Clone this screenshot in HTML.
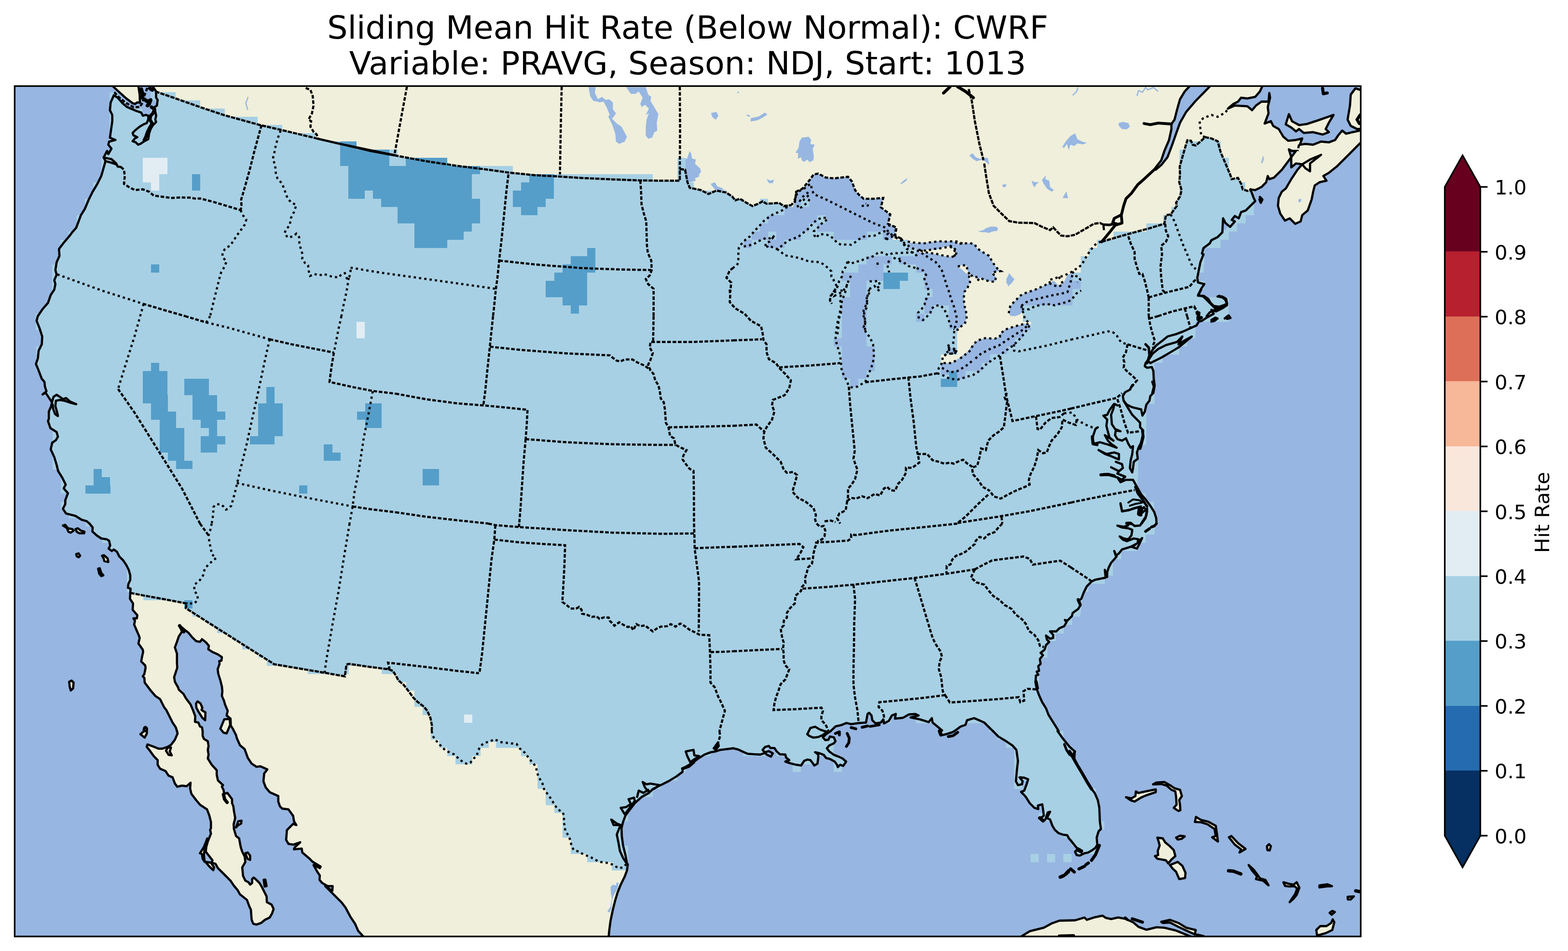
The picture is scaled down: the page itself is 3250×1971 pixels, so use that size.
<!DOCTYPE html>
<html><head><meta charset="utf-8"><title>Sliding Mean Hit Rate (Below Normal): CWRF</title>
<style>html,body{margin:0;padding:0;background:#fff}svg{display:block}</style></head>
<body>
<svg xmlns="http://www.w3.org/2000/svg" width="3250" height="1971" viewBox="0 0 3250 1971">
<rect width="3250" height="1971" fill="#fff"/>
<defs><clipPath id="ax"><rect x="30.4" y="178.4" width="2790.0" height="1762.5"/></clipPath></defs>
<g clip-path="url(#ax)">
<rect x="30.4" y="178.4" width="2790.0" height="1762.5" fill="#97b6e1"/>
<g fill="#efefdb">
<path d="M317.1,176.4 L2616.3,176.4 L2616.3,179.1 L2611.4,189.5 L2601.7,200.8 L2585.5,204.1 L2572.5,202.5 L2566.0,210.6 L2556.2,215.5 L2544.9,225.2 L2559.5,218.7 L2585.5,220.3 L2595.2,228.4 L2603.3,218.7 L2614.7,210.6 L2629.3,210.6 L2630.9,192.7 L2632.5,202.5 L2627.7,221.9 L2629.3,234.9 L2624.4,247.9 L2621.2,256.0 L2634.2,251.2 L2639.0,260.9 L2650.4,267.4 L2660.1,283.6 L2669.9,291.8 L2686.1,290.1 L2699.1,286.9 L2694.2,299.9 L2705.6,298.2 L2721.8,299.9 L2738.1,293.4 L2754.3,295.0 L2767.3,290.1 L2773.8,280.4 L2781.9,270.6 L2790.0,277.1 L2803.0,273.9 L2819.2,270.6 L2822.4,270.6 L2822.4,296.6 L2819.2,296.6 L2803.0,312.9 L2786.8,329.1 L2770.5,345.3 L2754.3,358.3 L2742.9,364.8 L2749.4,374.5 L2734.8,377.8 L2725.1,384.3 L2721.8,397.3 L2718.6,413.5 L2710.5,436.2 L2699.1,446.0 L2695.8,459.0 L2684.5,463.8 L2673.1,452.5 L2663.4,457.3 L2653.6,442.7 L2648.8,426.5 L2650.4,410.3 L2656.9,397.3 L2665.0,390.8 L2676.4,371.3 L2689.4,351.8 L2699.1,340.5 L2715.3,330.7 L2738.1,321.0 L2715.3,338.8 L2715.3,355.1 L2705.6,348.6 L2699.1,340.5 L2686.1,338.8 L2676.4,346.9 L2676.4,325.8 L2686.1,312.9 L2678.0,312.9 L2671.5,309.6 L2676.4,325.8 L2666.6,338.8 L2656.9,351.8 L2640.6,368.1 L2630.9,371.3 L2627.7,364.8 L2624.4,377.8 L2614.7,387.5 L2601.7,394.0 L2591.9,392.4 L2400.0,600.0 L1700.0,1000.0 L1150.0,1550.0 L1301.2,1791.2 L1299.5,1804.2 L1294.7,1817.1 L1286.6,1833.4 L1280.1,1849.6 L1275.2,1865.8 L1270.3,1885.3 L1265.5,1908.1 L1262.9,1927.5 L1261.6,1941.2 L1261.6,1942.9 L754.4,1942.9 L754.4,1942.5 L752.1,1939.9 L742.4,1929.2 L735.9,1914.5 L726.2,1899.9 L716.4,1881.4 L708.3,1870.7 L682.3,1844.7 L674.2,1836.6 L688.8,1846.4 L689.5,1836.6 L679.1,1836.6 L667.7,1830.1 L662.2,1823.6 L662.9,1814.5 L658.0,1807.4 L649.9,1792.8 L662.9,1799.3 L664.5,1796.0 L648.2,1786.3 L641.8,1779.8 L626.5,1766.8 L625.5,1758.7 L609.3,1760.3 L610.9,1756.1 L622.3,1745.7 L607.7,1750.6 L597.9,1749.0 L593.1,1740.8 L594.7,1720.4 L607.7,1707.4 L614.2,1710.0 L609.3,1701.9 L607.7,1691.2 L597.9,1677.5 L584.9,1675.9 L580.1,1671.0 L576.8,1661.3 L576.8,1649.9 L559.0,1641.8 L550.8,1632.1 L546.0,1619.1 L547.6,1602.9 L554.1,1594.7 L539.5,1588.2 L531.4,1589.2 L521.6,1582.7 L513.5,1570.4 L507.0,1552.5 L497.3,1544.4 L490.8,1529.8 L489.2,1523.3 L484.9,1515.2 L484.9,1515.1 L482.7,1510.5 L478.4,1504.0 L477.8,1489.4 L469.7,1482.9 L471.9,1473.2 L466.4,1460.2 L464.2,1452.1 L459.9,1442.3 L460.9,1432.6 L459.9,1422.9 L456.7,1409.9 L452.5,1396.9 L451.2,1387.1 L455.1,1375.8 L454.4,1370.3 L459.0,1369.3 L459.9,1361.8 L451.8,1356.3 L440.5,1351.4 L431.7,1345.6 L433.0,1338.4 L427.5,1331.9 L418.7,1324.8 L414.5,1330.3 L406.4,1328.7 L398.2,1320.6 L390.1,1310.8 L383.6,1306.0 L372.3,1296.2 L372.3,1296.2 L377.1,1309.2 L370.6,1319.0 L366.8,1330.3 L362.5,1341.7 L366.8,1354.7 L366.8,1374.2 L367.4,1383.9 L364.2,1393.6 L360.9,1403.4 L362.5,1413.1 L369.0,1424.5 L370.6,1429.4 L380.4,1438.4 L385.3,1447.2 L395.0,1460.2 L399.9,1471.6 L404.7,1484.5 L404.1,1495.9 L411.2,1497.5 L414.5,1505.6 L418.7,1507.3 L420.0,1515.1 L420.0,1515.2 L420.0,1524.9 L422.6,1531.4 L430.7,1536.3 L432.3,1546.0 L430.7,1554.2 L432.3,1563.9 L430.7,1572.0 L438.8,1585.0 L449.2,1596.4 L449.2,1606.1 L451.8,1617.5 L462.2,1627.2 L459.9,1630.5 L463.2,1636.9 L464.8,1645.1 L471.3,1643.4 L481.0,1656.4 L481.0,1664.5 L483.6,1671.0 L484.9,1680.8 L487.5,1695.4 L484.3,1708.4 L484.9,1718.1 L489.2,1732.7 L495.6,1737.6 L498.9,1755.5 L502.1,1765.2 L507.0,1774.9 L508.6,1786.3 L502.1,1797.7 L503.8,1815.5 L508.6,1825.3 L515.1,1828.5 L518.4,1833.4 L522.6,1830.1 L522.6,1822.0 L525.8,1818.8 L529.7,1822.0 L537.9,1830.1 L542.7,1838.2 L547.6,1848.0 L552.5,1857.7 L553.1,1869.7 L562.9,1874.9 L567.1,1883.7 L563.8,1893.4 L559.0,1901.6 L549.2,1906.4 L541.1,1912.9 L531.4,1916.2 L524.9,1914.5 L521.6,1906.4 L520.0,1885.3 L516.8,1878.8 L511.9,1865.2 L497.3,1853.5 L492.4,1844.7 L484.3,1835.0 L477.8,1825.3 L461.6,1809.0 L451.8,1799.3 L446.9,1790.5 L438.8,1787.9 L440.5,1783.1 L426.5,1765.2 L427.5,1755.5 L430.7,1744.1 L437.2,1727.9 L435.6,1719.7 L437.2,1716.5 L437.2,1703.5 L434.0,1690.5 L429.1,1677.5 L414.5,1667.8 L406.4,1658.1 L396.6,1645.1 L394.0,1633.7 L395.0,1622.3 L386.9,1629.5 L377.1,1628.2 L367.4,1630.5 L362.5,1624.0 L357.7,1611.0 L349.5,1607.7 L343.1,1598.0 L331.7,1593.1 L326.8,1585.0 L326.8,1575.3 L318.7,1567.1 L310.6,1555.8 L304.1,1547.7 L305.7,1542.8 L318.7,1547.7 L328.4,1551.6 L336.6,1551.6 L347.9,1547.7 L354.4,1543.8 L362.5,1533.1 L368.1,1520.1 L366.8,1515.2 L366.8,1515.1 L364.2,1507.3 L357.7,1497.5 L351.2,1484.5 L344.7,1471.6 L339.8,1465.1 L331.7,1448.8 L321.9,1442.3 L312.2,1431.0 L299.9,1414.7 L299.2,1405.0 L296.0,1401.8 L299.2,1396.9 L301.8,1383.9 L300.8,1379.0 L292.7,1370.9 L294.4,1361.2 L296.6,1351.4 L296.0,1346.6 L286.9,1333.6 L289.5,1322.2 L287.9,1317.3 L283.0,1306.0 L278.1,1294.6 L279.7,1286.5 L276.5,1281.6 L283.6,1281.6 L284.6,1275.1 L274.9,1263.8 L275.8,1250.8 L269.4,1241.0 L270.0,1229.7 L300.0,1000.0 L330.0,400.0 L323.6,189.5 L317.1,179.7Z"/>
<path d="M234.3,178.1 L247.3,191.1 L261.9,204.1 L274.9,213.8 L279.7,215.5 L284.6,212.2 L290.1,212.9 L289.5,196.0 L286.2,178.1Z"/>
<path d="M2665.0,257.7 L2671.5,236.6 L2678.0,251.2 L2692.6,259.3 L2708.8,257.0 L2731.6,249.5 L2764.0,238.2 L2754.3,254.4 L2747.8,267.4 L2754.3,273.9 L2741.3,278.8 L2721.8,273.9 L2702.3,275.5 L2692.6,267.4 L2686.1,272.3 L2676.4,264.2Z"/>
<path d="M2819.2,186.2 L2809.5,183.0 L2799.7,196.0 L2798.1,218.7 L2793.2,247.9 L2799.7,260.9 L2812.7,267.4 L2819.2,267.4Z"/>
<path d="M406.4,1457.9 L409.6,1453.7 L415.5,1457.9 L419.4,1466.7 L417.7,1471.6 L425.8,1476.4 L425.2,1492.7 L419.4,1487.8 L411.2,1474.8 L407.0,1466.7Z"/>
<path d="M130.4,1089.1 L135.3,1087.8 L140.8,1094.9 L149.9,1096.6 L152.5,1099.8 L146.6,1104.0 L141.8,1102.1 L138.5,1094.3Z"/>
<path d="M156.4,1096.6 L161.2,1094.9 L167.7,1099.8 L175.2,1102.1 L174.2,1105.3 L164.5,1105.3 L159.0,1102.1Z"/>
<path d="M158.0,1148.5 L162.9,1146.9 L166.1,1151.8 L162.9,1155.0 L159.0,1152.7Z"/>
<path d="M211.6,1151.8 L215.5,1150.8 L222.9,1157.3 L224.5,1164.7 L216.4,1163.1 L214.8,1157.3Z"/>
<path d="M203.4,1178.7 L206.7,1177.7 L209.9,1187.5 L214.2,1192.3 L209.9,1194.0 L205.7,1189.1Z"/>
<path d="M143.4,1413.1 L148.2,1410.5 L152.5,1414.7 L151.5,1426.8 L146.6,1431.0 L144.4,1422.9Z"/>
<path d="M297.6,1515.1 L298.6,1508.9 L301.8,1506.6 L304.4,1509.9 L304.4,1515.1Z"/>
<path d="M291.1,1521.7 L298.6,1515.2 L299.9,1507.1 L304.1,1508.7 L304.4,1520.1 L299.9,1528.8Z"/>
<path d="M344.0,1555.8 L347.9,1549.3 L354.4,1549.3 L351.8,1557.4 L356.0,1565.5 L349.5,1564.5Z"/>
<path d="M456.7,1510.3 L464.8,1490.8 L476.2,1489.9 L477.1,1502.2 L469.7,1520.1 L463.2,1518.4Z"/>
<path d="M489.2,1714.9 L494.0,1701.9 L500.5,1700.9 L499.9,1706.8 L494.0,1710.0Z"/>
<path d="M508.6,1768.4 L513.5,1766.8 L518.4,1773.3 L518.4,1782.1 L512.9,1779.8Z"/>
<path d="M546.6,1823.6 L549.9,1823.0 L552.5,1836.6 L548.6,1837.3Z"/>
<path d="M414.5,1768.4 L422.6,1755.5 L429.7,1737.6 L424.2,1758.7 L422.6,1771.7 L424.2,1786.3 L420.0,1779.8 L418.7,1770.1Z"/>
<path d="M425.8,1786.3 L437.2,1787.9 L443.7,1797.7 L442.1,1803.5 L434.0,1796.0Z"/>
<path d="M2333.8,1652.2 L2345.2,1654.8 L2353.3,1649.9 L2354.3,1640.2 L2359.8,1643.4 L2374.4,1640.2 L2395.5,1636.0 L2395.5,1641.8 L2377.7,1647.7 L2364.7,1653.2 L2351.7,1661.3 L2343.6,1658.7Z"/>
<path d="M2390.0,1625.6 L2397.1,1621.7 L2413.4,1620.7 L2424.7,1627.2 L2434.5,1633.7 L2445.8,1636.9 L2449.7,1649.9 L2444.2,1658.1 L2445.8,1667.8 L2446.5,1679.2 L2442.6,1680.8 L2432.9,1674.3 L2438.7,1667.8 L2437.7,1651.6 L2436.1,1640.2 L2428.0,1636.9 L2418.2,1628.2 L2406.9,1624.9Z"/>
<path d="M2398.8,1736.0 L2410.1,1737.6 L2415.0,1745.7 L2424.7,1753.8 L2432.9,1761.9 L2436.1,1774.3 L2428.0,1781.4 L2421.5,1789.5 L2416.6,1783.1 L2408.5,1781.4 L2398.8,1779.8 L2393.9,1774.3 L2400.4,1772.3 L2399.7,1763.6 L2403.6,1752.2 L2401.0,1742.5Z"/>
<path d="M2424.7,1792.8 L2441.0,1786.3 L2450.7,1794.4 L2457.2,1809.0 L2456.2,1819.7 L2444.2,1822.0 L2437.7,1806.8 L2431.2,1800.9Z"/>
<path d="M2476.7,1703.5 L2479.0,1693.1 L2489.7,1699.6 L2504.3,1702.9 L2519.9,1711.6 L2522.1,1726.2 L2523.8,1739.2 L2524.4,1744.1 L2512.4,1735.3 L2519.9,1732.7 L2517.3,1718.1 L2502.7,1708.4 L2489.7,1704.2Z"/>
<path d="M2437.7,1736.0 L2445.8,1732.1 L2455.6,1733.4 L2449.1,1738.6 L2441.0,1739.9Z"/>
<path d="M2547.1,1735.3 L2552.3,1732.7 L2566.0,1747.3 L2581.6,1759.4 L2569.2,1766.8 L2572.5,1760.3 L2559.5,1750.6Z"/>
<path d="M2626.0,1753.8 L2630.3,1749.6 L2634.2,1753.8 L2631.6,1762.6 L2627.0,1761.9Z"/>
<path d="M2588.1,1792.8 L2598.4,1802.5 L2608.2,1815.5 L2611.4,1820.4 L2622.8,1823.6 L2629.3,1835.0 L2617.9,1825.3 L2603.3,1822.0 L2605.6,1816.5 L2595.2,1804.2Z"/>
<path d="M2660.1,1828.5 L2671.5,1831.8 L2681.2,1833.4 L2687.7,1828.5 L2693.2,1839.9 L2687.7,1854.5 L2681.2,1862.6 L2673.1,1869.7 L2684.5,1852.9 L2688.7,1841.5 L2682.9,1836.6 L2671.5,1837.3 L2663.4,1836.0Z"/>
<path d="M2734.8,1835.0 L2751.0,1832.7 L2760.8,1836.6 L2749.4,1837.3 L2734.8,1839.2Z"/>
<path d="M2728.3,1927.5 L2736.4,1919.4 L2749.4,1919.4 L2759.2,1912.9 L2762.4,1905.5 L2765.6,1911.3 L2761.4,1927.5 L2747.8,1934.0 L2729.9,1938.9Z"/>
<path d="M2755.9,1891.8 L2761.4,1887.9 L2766.6,1890.2 L2760.1,1895.7Z"/>
<path d="M2793.2,1858.7 L2806.2,1857.7 L2799.7,1864.2 L2793.9,1864.2Z"/>
<path d="M2116.3,1941.8 L2134.2,1930.1 L2163.4,1922.7 L2179.6,1913.9 L2195.8,1908.1 L2228.3,1907.4 L2247.8,1901.6 L2252.7,1906.4 L2267.3,1901.6 L2285.1,1897.7 L2291.6,1902.2 L2303.0,1904.8 L2317.6,1901.6 L2332.2,1904.2 L2348.4,1911.3 L2359.8,1921.0 L2376.0,1926.9 L2397.1,1921.7 L2413.4,1922.7 L2436.1,1928.2 L2452.3,1934.7 L2465.3,1939.9 L2471.8,1942.1Z"/>
<path d="M2406.9,1910.6 L2424.7,1906.4 L2442.6,1912.9 L2458.8,1922.7 L2478.3,1927.5 L2476.7,1936.6 L2462.1,1930.1 L2442.6,1921.0 L2424.7,1911.9 L2410.1,1912.9Z"/>
</g>
<g fill="#97b6e1">
<path d="M1220.0,180.4 L1234.6,180.4 L1233.0,192.7 L1239.5,205.7 L1247.6,200.8 L1255.7,207.3 L1262.2,205.7 L1270.3,212.2 L1270.3,226.8 L1276.8,234.9 L1268.7,246.3 L1278.4,256.0 L1288.2,262.5 L1299.5,283.6 L1294.7,293.4 L1283.3,298.2 L1276.8,293.4 L1275.2,277.1 L1268.7,257.7 L1260.6,241.4 L1263.8,238.2 L1257.3,221.9 L1250.8,210.6 L1242.7,212.2 L1237.9,210.6 L1229.7,209.0 L1223.2,199.2Z"/>
<path d="M1297.9,180.4 L1338.5,180.4 L1343.4,196.0 L1349.9,200.8 L1348.2,209.0 L1358.0,225.2 L1364.5,236.6 L1361.2,254.4 L1362.2,270.6 L1356.4,273.9 L1351.5,285.3 L1343.4,287.5 L1338.5,280.4 L1338.5,264.2 L1340.1,247.9 L1345.0,234.9 L1338.5,238.2 L1345.0,225.2 L1336.9,217.1 L1330.4,221.9 L1327.1,215.5 L1332.0,202.5 L1323.9,189.5 L1317.4,194.4 L1307.7,194.4 L1302.8,187.9Z"/>
<path d="M1473.9,234.9 L1484.6,231.7 L1488.8,239.8 L1483.6,247.9 L1478.1,243.1Z"/>
<path d="M1422.9,332.3 L1429.4,312.9 L1432.7,319.4 L1434.3,329.1 L1442.4,330.7 L1439.2,338.8 L1447.3,345.3 L1453.1,355.1 L1447.3,364.8 L1439.2,368.1 L1442.4,374.5 L1431.0,377.8 L1424.5,371.3 L1421.3,358.3 L1427.8,351.8 L1422.9,345.3Z"/>
<path d="M1473.2,381.0 L1481.4,377.8 L1486.2,385.9 L1499.2,390.8 L1492.7,394.0 L1483.0,392.4Z"/>
<path d="M1473.6,234.3 L1484.9,232.3 L1488.8,239.8 L1483.3,247.9 L1476.8,243.1Z"/>
<path d="M1545.0,238.2 L1553.1,238.2 L1554.7,243.1Z"/>
<path d="M1556.4,244.7 L1572.6,241.4 L1585.6,233.3 L1590.5,237.5 L1579.1,244.7 L1569.4,249.5 L1555.7,251.8Z"/>
<path d="M1661.9,285.3 L1676.5,283.6 L1681.4,290.1 L1679.7,298.2 L1688.8,299.9 L1684.6,308.0 L1686.9,325.8 L1685.6,332.3 L1678.1,336.2 L1673.2,330.7 L1666.8,335.6 L1661.9,332.3 L1660.3,325.8 L1653.8,329.1 L1654.4,317.7 L1648.9,316.1 L1655.4,306.4 L1657.0,293.4Z"/>
<path d="M1588.8,370.6 L1596.9,374.5 L1604.4,371.9 L1601.8,379.4 L1593.7,379.4Z"/>
<path d="M1865.5,381.0 L1874.5,372.9 L1881.7,368.7 L1877.8,375.2 L1869.7,381.0Z"/>
<path d="M1420.0,327.5 L1428.1,332.3 L1431.4,314.5 L1434.6,329.1 L1442.1,330.7 L1440.1,342.1 L1450.8,348.6 L1453.1,356.7 L1444.4,361.6 L1450.8,364.8 L1437.9,371.3 L1429.7,377.8 L1420.0,377.8Z"/>
<path d="M1473.6,382.7 L1481.7,377.8 L1486.6,385.9 L1488.2,392.4 L1504.4,392.4 L1494.7,395.6 L1483.3,394.0Z"/>
<path d="M2009.3,321.9 L2015.8,317.7 L2022.3,325.8 L2030.4,329.1 L2046.6,327.5 L2049.9,340.5 L2036.9,330.7 L2023.9,334.0 L2015.8,329.1Z"/>
<path d="M2028.8,480.1 L2041.8,475.2 L2053.1,470.3 L2066.1,470.3 L2068.7,475.2 L2059.6,478.4 L2048.2,482.3 L2038.5,481.0Z"/>
<path d="M2465.3,178.4 L2507.5,178.4 L2494.5,192.7 L2478.3,209.0 L2458.8,231.7 L2445.8,254.4 L2437.7,277.1 L2429.6,299.9 L2419.9,325.8 L2406.9,342.1 L2395.5,351.8 L2395.5,346.9 L2406.9,332.3 L2413.4,312.9 L2423.1,290.1 L2428.0,267.4 L2428.0,257.0 L2434.5,247.9 L2439.4,228.4 L2445.8,205.7 L2455.6,189.5Z"/>
<path d="M2318.6,255.1 L2327.3,252.8 L2338.7,255.1 L2341.9,262.5 L2335.5,268.1 L2325.7,267.4 L2319.2,260.9Z"/>
<path d="M2201.7,304.7 L2208.8,293.4 L2218.6,282.0 L2228.3,276.5 L2233.2,288.5 L2242.9,293.4 L2252.7,296.0 L2244.5,299.2 L2233.2,297.3 L2226.7,302.5 L2218.6,299.9 L2215.3,311.2 L2211.4,298.2 L2205.6,306.4Z"/>
<path d="M2138.1,374.5 L2145.5,377.8 L2153.6,377.1 L2147.1,382.7 L2144.5,388.2 L2141.3,384.3Z"/>
<path d="M2159.5,372.9 L2168.2,363.2 L2166.6,371.3 L2174.7,374.5 L2176.4,387.5 L2184.5,394.0 L2179.6,397.3 L2169.9,390.8 L2163.4,381.0Z"/>
<path d="M2202.3,410.3 L2210.5,396.6 L2213.7,410.9Z"/>
<path d="M2077.3,382.7 L2086.1,381.7 L2084.8,386.9 L2079.0,388.2Z"/>
<path d="M2085.5,579.1 L2091.9,566.8 L2101.7,579.1 L2096.8,587.2 L2090.3,592.1Z"/>
<path d="M2614.0,337.2 L2617.9,322.6 L2619.9,329.1 L2616.3,338.8Z"/>
<path d="M2691.0,413.5 L2697.5,411.9 L2695.8,418.4 L2691.9,419.4Z"/>
<path d="M1265.5,1838.2 L1270.3,1833.4 L1276.8,1835.0 L1278.4,1828.5 L1282.3,1830.1 L1280.1,1841.5 L1271.9,1856.1 L1268.7,1865.8 L1267.1,1882.1 L1263.8,1891.8 L1259.0,1888.6 L1265.5,1878.8 L1268.1,1862.6 L1266.1,1849.6Z"/>
<path d="M2026.8,479.0 L2040.0,477.5 L2042.0,473.5 L2054.2,469.4 L2064.4,470.0 L2068.8,474.5 L2066.4,478.6 L2058.3,479.6 L2048.1,483.0 L2046.1,480.2 L2036.0,481.6Z"/>
<path d="M2085.1,583.7 L2090.7,576.0 L2091.2,565.8 L2097.8,573.9 L2102.9,579.0 L2097.8,585.1 L2092.4,588.1 L2090.7,594.2Z"/>
</g>
<g fill="none" stroke="#97b6e1" stroke-width="2.5">
<path d="M514.2,200.8 L509.6,213.8 L513.5,227.8"/>
<path d="M1528.8,190.1 L1531.0,192.7"/>
<path d="M2356.6,199.2 L2359.8,187.9 L2367.9,191.1 L2374.4,181.4 L2379.3,186.2 L2390.6,181.4 L2400.4,189.5"/>
<path d="M2223.4,197.6 L2231.6,189.5 L2234.2,181.4"/>
<path d="M2040.0,327.5 L2046.5,329.1 L2049.1,340.5"/>
</g>
<g fill="#a7d0e4" shape-rendering="crispEdges">
<path d="M323.6,189.5 L321.9,189.5 L364.2,204.1 L414.5,221.9 L466.4,239.2 L539.5,259.3 L581.7,269.0 L656.4,286.9 L705.1,298.2 L766.8,311.2 L820.0,321.9 L817.4,321.9 L882.3,334.0 L947.3,343.7 L1012.2,351.8 L1054.4,357.7 L1109.6,363.2 L1158.3,365.8 L1207.0,369.0 L1271.9,371.9 L1327.1,373.9 L1369.4,374.5 L1409.0,374.5 L1409.0,350.2 L1409.0,350.2 L1420.0,351.8 L1424.9,377.8 L1429.7,389.2 L1452.5,394.0 L1468.7,402.1 L1484.9,395.0 L1504.4,398.9 L1517.4,407.0 L1523.9,415.1 L1533.6,411.9 L1546.6,420.0 L1559.6,427.1 L1569.4,423.2 L1580.7,417.4 L1588.8,422.3 L1614.8,420.6 L1624.5,427.1 L1640.8,424.9 L1643.3,438.7 L1702.9,471.2 L1804.4,471.2 L1840.9,477.3 L1845.0,491.5 L1849.0,496.9 L1881.5,496.9 L1881.5,507.7 L1905.8,511.8 L1930.4,541.5 L1960.9,602.3 L1981.2,663.2 L1978.1,681.5 L1984.3,683.4 L1984.3,734.7 L1950.2,734.7 L1950.2,755.8 L2004.4,755.8 L2069.4,723.4 L2123.2,677.4 L2137.8,683.5 L2137.8,666.7 L2120.8,666.7 L2120.8,632.8 L2163.8,622.6 L2223.1,582.0 L2223.1,564.8 L2240.1,564.8 L2240.1,564.8 L2240.1,531.3 L2257.1,531.3 L2257.1,514.1 L2274.2,514.1 L2274.2,497.2 L2308.3,497.2 L2308.3,480.2 L2376.5,480.2 L2376.5,463.3 L2400.0,463.3 L2413.4,463.8 L2416.6,446.0 L2426.4,444.4 L2439.4,426.5 L2437.7,420.0 L2445.8,407.0 L2449.1,394.0 L2444.2,377.8 L2445.8,361.6 L2445.2,345.3 L2450.7,325.8 L2457.2,303.1 L2461.1,290.8 L2468.6,291.8 L2471.8,299.9 L2478.3,301.5 L2488.1,293.4 L2497.8,284.3 L2510.8,286.9 L2523.8,292.7 L2530.3,316.1 L2540.0,338.8 L2549.7,361.6 L2553.0,371.3 L2566.0,368.7 L2572.5,381.0 L2575.7,392.4 L2585.5,395.6 L2591.9,394.0 L2591.9,392.4 L2598.4,410.3 L2601.7,416.8 L2591.9,426.5 L2582.2,436.2 L2572.5,439.5 L2567.6,452.5 L2559.5,447.6 L2553.0,455.7 L2559.5,459.0 L2549.7,470.3 L2540.0,462.2 L2535.1,452.5 L2533.5,481.7 L2523.8,491.4 L2510.8,497.9 L2507.5,504.4 L2494.5,514.2 L2491.3,525.5 L2494.5,527.1 L2488.1,543.4 L2484.8,559.6 L2481.6,575.8 L2483.2,585.6 L2496.2,588.8 L2489.7,598.6 L2483.2,611.6 L2494.5,613.0 L2494.5,616.2 L2546.5,616.2 L2546.5,666.6 L2478.3,666.6 L2478.3,700.6 L2461.1,700.6 L2461.1,717.5 L2444.2,717.5 L2444.2,734.7 L2410.1,734.7 L2410.1,751.9 L2392.9,751.9 L2392.9,837.0 L2376.0,837.0 L2376.0,922.1 L2358.2,922.1 L2358.2,1022.1 L2374.4,1022.1 L2374.4,1035.1 L2384.2,1048.1 L2392.3,1061.0 L2396.5,1074.0 L2398.8,1085.1 L2398.8,1085.2 L2393.9,1091.7 L2392.3,1107.9 L2374.4,1107.9 L2374.4,1124.8 L2358.2,1124.8 L2358.2,1142.0 L2324.1,1142.0 L2324.1,1158.9 L2306.9,1158.9 L2306.9,1193.0 L2290.0,1193.0 L2290.0,1210.2 L2255.9,1210.2 L2255.9,1227.1 L2244.5,1227.1 L2242.9,1244.3 L2238.7,1278.4 L2221.8,1278.4 L2221.8,1295.3 L2204.9,1295.3 L2204.9,1312.5 L2187.7,1312.5 L2187.7,1329.4 L2170.8,1329.4 L2170.8,1363.4 L2160.1,1363.4 L2156.9,1375.8 L2153.6,1390.4 L2148.8,1392.0 L2152.0,1398.5 L2147.1,1400.1 L2146.5,1413.1 L2148.8,1427.7 L2153.6,1440.7 L2160.1,1455.3 L2168.2,1468.3 L2173.1,1481.3 L2181.2,1494.3 L2189.4,1507.3 L2194.2,1515.1 L2191.9,1515.2 L2202.3,1529.8 L2216.9,1547.7 L2227.7,1557.4 L2226.7,1572.0 L2234.8,1589.9 L2244.5,1606.1 L2254.3,1622.3 L2262.4,1635.3 L2268.9,1643.4 L2275.4,1658.1 L2278.6,1674.3 L2279.6,1701.9 L2281.9,1718.1 L2277.0,1723.0 L2273.1,1736.0 L2274.4,1750.6 L2270.5,1757.1 L2264.0,1761.9 L2255.9,1766.8 L2247.8,1768.4 L2238.1,1773.3 L2231.6,1772.3 L2228.3,1765.2 L2231.6,1761.9 L2241.3,1766.8 L2242.9,1763.6 L2238.1,1760.3 L2231.6,1757.1 L2225.1,1749.0 L2219.9,1742.5 L2220.0,1742.5 L2215.5,1737.6 L2212.2,1731.1 L2204.1,1730.1 L2194.4,1726.9 L2186.2,1719.7 L2181.4,1711.6 L2176.5,1698.6 L2170.0,1695.4 L2176.5,1682.4 L2171.6,1684.0 L2166.8,1698.6 L2161.9,1701.9 L2157.0,1695.4 L2163.5,1690.5 L2161.9,1677.5 L2160.3,1667.1 L2151.2,1669.4 L2152.1,1676.9 L2144.0,1674.3 L2134.3,1664.5 L2126.2,1651.6 L2116.4,1641.2 L2122.9,1638.6 L2127.8,1625.6 L2131.0,1615.2 L2122.9,1611.9 L2113.2,1611.0 L2119.7,1619.1 L2118.1,1625.6 L2109.9,1627.2 L2105.7,1619.1 L2107.7,1596.4 L2109.9,1576.9 L2106.7,1554.2 L2098.6,1545.1 L2085.6,1536.3 L2069.4,1526.6 L2058.0,1515.2 L2058.0,1515.1 L2053.1,1510.5 L2040.1,1497.5 L2019.0,1488.4 L2004.4,1492.7 L2001.2,1502.4 L1991.4,1505.6 L1978.4,1515.1 L1978.4,1515.2 L1973.6,1517.8 L1960.6,1521.7 L1949.9,1524.3 L1947.6,1518.4 L1952.5,1513.9 L1952.5,1513.8 L1942.7,1505.6 L1933.0,1497.5 L1931.4,1488.4 L1924.9,1496.6 L1907.0,1491.0 L1887.5,1487.1 L1903.8,1482.9 L1897.3,1479.7 L1884.3,1480.6 L1871.3,1487.8 L1855.1,1489.4 L1856.7,1479.7 L1848.6,1482.9 L1842.1,1494.3 L1832.3,1499.2 L1830.7,1491.0 L1825.8,1497.5 L1814.5,1499.2 L1808.0,1492.7 L1806.4,1482.9 L1801.5,1477.4 L1798.2,1479.7 L1795.0,1497.5 L1780.4,1498.5 L1764.2,1500.8 L1754.4,1498.5 L1744.7,1502.4 L1731.7,1505.6 L1721.9,1515.1 L1721.9,1515.2 L1712.2,1521.7 L1705.7,1528.2 L1710.6,1534.0 L1717.1,1533.1 L1720.3,1526.6 L1728.4,1528.2 L1731.7,1536.3 L1728.4,1540.5 L1718.7,1545.1 L1713.8,1550.9 L1718.7,1557.4 L1728.4,1564.5 L1739.8,1568.8 L1746.3,1572.0 L1753.8,1578.5 L1747.9,1587.3 L1741.4,1585.0 L1736.6,1589.9 L1734.9,1585.0 L1730.1,1578.5 L1720.3,1573.0 L1712.2,1571.0 L1707.3,1564.5 L1699.2,1561.3 L1689.5,1559.0 L1696.0,1563.9 L1696.0,1570.4 L1694.4,1582.7 L1687.9,1586.6 L1684.6,1581.8 L1679.7,1575.3 L1673.2,1574.3 L1666.8,1576.9 L1660.3,1586.6 L1647.3,1584.4 L1637.5,1581.8 L1627.8,1578.5 L1635.9,1575.3 L1629.4,1570.4 L1627.8,1563.9 L1616.4,1563.2 L1609.9,1557.4 L1605.1,1550.3 L1596.9,1550.3 L1593.7,1546.0 L1585.6,1548.3 L1580.7,1554.2 L1585.6,1560.6 L1575.8,1563.9 L1562.9,1563.2 L1549.9,1562.3 L1540.1,1558.1 L1530.4,1553.5 L1520.0,1550.9 L1520.0,1550.9 L1492.7,1554.2 L1483.0,1557.4 L1473.2,1559.0 L1460.3,1563.9 L1447.3,1572.0 L1434.3,1581.8 L1414.8,1593.1 L1414.8,1599.6 L1401.8,1609.4 L1385.6,1619.1 L1369.4,1627.2 L1353.1,1635.3 L1345.0,1643.4 L1330.4,1651.6 L1317.4,1662.9 L1304.4,1679.2 L1296.3,1690.5 L1291.4,1703.5 L1288.2,1716.5 L1288.8,1732.7 L1291.4,1752.2 L1296.3,1771.7 L1299.5,1789.5 L1297.9,1804.2 L1268.1,1804.2 L1268.1,1786.9 L1216.8,1786.9 L1216.8,1770.1 L1183.6,1770.1 L1183.6,1736.0 L1166.4,1736.0 L1166.4,1684.7 L1148.6,1684.7 L1148.6,1667.8 L1130.7,1667.8 L1130.7,1633.7 L1113.8,1633.7 L1113.8,1584.0 L1096.6,1584.0 L1096.6,1567.1 L1079.7,1567.1 L1079.7,1550.3 L1028.4,1550.3 L1028.4,1537.9 L1012.2,1537.9 L1012.2,1550.3 L995.0,1550.3 L995.0,1567.1 L978.1,1567.1 L978.1,1584.0 L944.0,1584.0 L944.0,1567.1 L926.8,1567.1 L926.8,1550.3 L909.9,1550.3 L909.9,1533.1 L893.1,1533.1 L893.1,1482.1 L875.8,1482.1 L875.8,1464.9 L859.0,1464.9 L859.0,1460.0 L859.0,1465.1 L859.0,1431.0 L841.8,1431.0 L841.8,1414.1 L823.9,1414.1 L823.9,1396.9 L790.8,1396.9 L790.8,1388.8 L805.7,1387.1 L766.8,1382.3 L722.9,1375.8 L718.1,1377.4 L714.8,1401.8 L672.6,1394.3 L620.6,1385.5 L568.7,1376.8 L523.2,1348.2 L474.5,1317.3 L425.8,1286.5 L385.3,1260.5 L386.9,1250.8 L344.7,1242.7 L296.0,1233.9 L270.0,1228.7 L270.0,1229.7 L270.6,1219.9 L265.1,1218.3 L266.1,1210.2 L270.0,1202.1 L270.0,1192.3 L266.8,1181.0 L261.9,1171.2 L255.4,1161.5 L247.3,1153.4 L242.4,1143.6 L235.9,1138.8 L231.7,1142.0 L225.2,1137.1 L228.4,1130.6 L226.2,1120.9 L221.3,1117.7 L209.9,1116.0 L200.2,1109.5 L191.4,1101.4 L192.1,1093.3 L185.6,1085.2 L185.6,1085.1 L179.1,1079.9 L169.4,1077.3 L156.4,1069.2 L136.9,1064.3 L130.4,1054.5 L135.3,1044.8 L135.3,1036.7 L140.8,1022.1 L132.0,1012.3 L136.2,1004.2 L128.8,989.6 L120.6,976.6 L117.4,963.6 L112.5,947.4 L105.1,931.2 L108.3,917.5 L115.8,912.3 L120.0,905.2 L117.4,895.5 L104.4,887.3 L99.5,872.7 L101.2,867.9 L101.2,853.2 L106.0,841.9 L107.7,833.8 L101.2,824.0 L94.7,814.3 L88.2,817.5 L96.3,811.0 L93.1,801.3 L92.1,791.6 L86.6,785.1 L81.7,772.1 L74.5,754.2 L78.4,742.9 L80.1,726.6 L86.6,713.6 L87.5,697.4 L81.7,679.5 L75.8,664.9 L78.4,655.2 L78.4,655.1 L88.2,640.8 L99.5,627.8 L105.1,611.6 L112.5,600.2 L114.8,588.8 L112.5,580.7 L117.4,569.4 L114.8,559.6 L117.4,543.4 L123.2,530.4 L122.3,515.8 L133.6,501.2 L143.4,489.8 L148.2,483.3 L158.0,471.9 L167.7,446.0 L175.8,433.0 L184.0,413.5 L192.1,397.3 L201.8,381.0 L209.9,364.8 L218.7,334.0 L214.8,326.5 L214.8,326.5 L221.9,312.9 L224.5,319.4 L231.0,308.0 L224.5,299.9 L226.2,293.4 L239.2,290.1 L227.8,285.3 L230.4,267.4 L232.7,251.2 L232.7,238.2 L227.8,228.4 L229.4,212.2 L235.9,197.6 L244.0,202.5 L253.8,213.8 L263.5,221.9 L283.0,230.1 L292.7,233.3 L296.0,239.8 L321.9,231.7 L325.2,218.7 L326.8,207.3 L323.6,202.5Z"/>
<rect x="312.3" y="191.3" width="51.2" height="17.0"/>
<rect x="363.5" y="208.3" width="51.2" height="16.9"/>
<rect x="414.7" y="225.2" width="51.2" height="17.0"/>
<rect x="465.9" y="242.2" width="68.3" height="17.0"/>
<rect x="534.2" y="259.2" width="51.2" height="17.0"/>
<rect x="585.4" y="276.2" width="68.2" height="17.0"/>
<rect x="807.2" y="310.1" width="17.1" height="17.0"/>
<rect x="994.9" y="344.1" width="68.2" height="17.0"/>
<rect x="1063.1" y="361.1" width="290.0" height="16.9"/>
<rect x="1404.2" y="327.1" width="17.1" height="50.9"/>
<rect x="1353.1" y="378.0" width="85.3" height="17.0"/>
<rect x="2136.0" y="1770.0" width="17.0" height="17.0"/>
<rect x="2170.0" y="1770.0" width="17.0" height="17.0"/>
<rect x="2204.0" y="1770.0" width="17.1" height="17.0"/>
<rect x="1642.5" y="1583.2" width="17.0" height="17.0"/>
<rect x="1727.6" y="1583.2" width="17.0" height="17.0"/>
<rect x="2136.0" y="1770.0" width="17.0" height="17.0"/>
<rect x="2170.0" y="1770.0" width="17.0" height="17.0"/>
<rect x="2204.0" y="1770.0" width="17.1" height="17.0"/>
<rect x="227.0" y="191.3" width="17.1" height="17.3"/>
<rect x="329.4" y="191.3" width="17.1" height="17.3"/>
<rect x="227.0" y="208.3" width="34.1" height="17.3"/>
<rect x="329.4" y="208.3" width="68.2" height="17.3"/>
<rect x="227.1" y="225.2" width="68.2" height="17.3"/>
<rect x="312.4" y="225.2" width="136.5" height="17.3"/>
<rect x="227.1" y="242.2" width="273.0" height="17.3"/>
<rect x="227.1" y="259.2" width="341.2" height="17.3"/>
<rect x="227.2" y="276.2" width="426.5" height="17.3"/>
<rect x="227.2" y="293.2" width="494.7" height="17.3"/>
<rect x="2461.9" y="293.2" width="68.2" height="17.3"/>
<rect x="227.2" y="310.1" width="580.0" height="17.3"/>
<rect x="2444.8" y="310.1" width="85.3" height="17.3"/>
<rect x="210.2" y="327.1" width="682.3" height="17.3"/>
<rect x="2444.8" y="327.1" width="102.3" height="17.3"/>
<rect x="210.2" y="344.1" width="801.7" height="17.3"/>
<rect x="1404.2" y="344.1" width="17.1" height="17.3"/>
<rect x="2444.7" y="344.1" width="102.3" height="17.3"/>
<rect x="210.3" y="361.1" width="1006.4" height="17.3"/>
<rect x="1404.2" y="361.1" width="17.1" height="17.3"/>
<rect x="2444.7" y="361.1" width="102.3" height="17.3"/>
<rect x="193.2" y="378.0" width="1228.1" height="17.3"/>
<rect x="2444.7" y="378.0" width="136.5" height="17.3"/>
<rect x="193.3" y="395.0" width="1313.3" height="17.3"/>
<rect x="2444.7" y="395.0" width="153.5" height="17.3"/>
<rect x="176.2" y="412.0" width="1364.4" height="17.3"/>
<rect x="1574.8" y="412.0" width="17.1" height="17.3"/>
<rect x="2444.6" y="412.0" width="153.5" height="17.3"/>
<rect x="176.3" y="429.0" width="1466.7" height="17.3"/>
<rect x="2427.5" y="429.0" width="153.5" height="17.3"/>
<rect x="159.2" y="445.9" width="1517.9" height="17.3"/>
<rect x="2410.5" y="445.9" width="136.4" height="17.3"/>
<rect x="159.3" y="462.9" width="1654.3" height="17.3"/>
<rect x="2376.3" y="462.9" width="153.5" height="17.3"/>
<rect x="142.3" y="479.9" width="1705.4" height="17.3"/>
<rect x="2308.1" y="479.9" width="221.7" height="17.3"/>
<rect x="125.2" y="496.9" width="1756.5" height="17.3"/>
<rect x="2273.9" y="496.9" width="238.7" height="17.3"/>
<rect x="125.3" y="513.8" width="1790.5" height="17.3"/>
<rect x="2256.9" y="513.8" width="238.7" height="17.3"/>
<rect x="125.3" y="530.8" width="1807.5" height="17.3"/>
<rect x="2239.8" y="530.8" width="255.8" height="17.3"/>
<rect x="108.3" y="547.8" width="1824.5" height="17.3"/>
<rect x="2239.8" y="547.8" width="238.7" height="17.3"/>
<rect x="108.3" y="564.8" width="1841.6" height="17.3"/>
<rect x="2222.7" y="564.8" width="255.8" height="17.3"/>
<rect x="108.4" y="581.7" width="1841.5" height="17.3"/>
<rect x="2205.6" y="581.7" width="289.9" height="17.3"/>
<rect x="108.4" y="598.7" width="1858.5" height="17.3"/>
<rect x="2188.5" y="598.7" width="289.9" height="17.3"/>
<rect x="108.4" y="615.7" width="1858.5" height="17.3"/>
<rect x="2154.4" y="615.7" width="392.2" height="17.3"/>
<rect x="91.4" y="632.7" width="1875.5" height="17.3"/>
<rect x="2120.3" y="632.7" width="426.2" height="17.3"/>
<rect x="74.4" y="649.6" width="1909.5" height="17.3"/>
<rect x="2120.3" y="649.6" width="426.2" height="17.3"/>
<rect x="74.4" y="666.6" width="1909.4" height="17.3"/>
<rect x="2137.3" y="666.6" width="341.0" height="17.3"/>
<rect x="91.5" y="683.6" width="1892.3" height="17.3"/>
<rect x="2103.2" y="683.6" width="375.1" height="17.3"/>
<rect x="91.5" y="700.6" width="1892.3" height="17.3"/>
<rect x="2086.1" y="700.6" width="375.1" height="17.3"/>
<rect x="74.5" y="717.5" width="1909.3" height="17.3"/>
<rect x="2069.1" y="717.5" width="375.0" height="17.3"/>
<rect x="74.6" y="734.5" width="1875.2" height="17.3"/>
<rect x="2034.9" y="734.5" width="375.0" height="17.3"/>
<rect x="74.6" y="751.5" width="2318.3" height="17.3"/>
<rect x="91.7" y="768.5" width="2301.2" height="17.3"/>
<rect x="91.7" y="785.4" width="2301.1" height="17.3"/>
<rect x="91.7" y="802.4" width="2301.1" height="17.3"/>
<rect x="108.8" y="819.4" width="2284.0" height="17.3"/>
<rect x="108.9" y="836.4" width="2266.9" height="17.3"/>
<rect x="108.9" y="853.3" width="2266.8" height="17.3"/>
<rect x="108.9" y="870.3" width="2266.7" height="17.3"/>
<rect x="109.0" y="887.3" width="2266.7" height="17.3"/>
<rect x="109.0" y="904.3" width="2266.6" height="17.3"/>
<rect x="109.0" y="921.2" width="2249.5" height="17.3"/>
<rect x="109.1" y="938.2" width="2249.5" height="17.3"/>
<rect x="109.1" y="955.2" width="2249.4" height="17.3"/>
<rect x="126.2" y="972.2" width="2232.3" height="17.3"/>
<rect x="126.2" y="989.1" width="2232.2" height="17.3"/>
<rect x="126.2" y="1006.1" width="2232.2" height="17.3"/>
<rect x="143.3" y="1023.1" width="2232.1" height="17.3"/>
<rect x="126.3" y="1040.1" width="2266.1" height="17.3"/>
<rect x="143.4" y="1057.0" width="2249.0" height="17.3"/>
<rect x="177.5" y="1074.0" width="2214.9" height="17.3"/>
<rect x="194.6" y="1091.0" width="2197.8" height="17.3"/>
<rect x="211.6" y="1108.0" width="2163.7" height="17.3"/>
<rect x="228.7" y="1124.9" width="2129.5" height="17.3"/>
<rect x="245.8" y="1141.9" width="2078.4" height="17.3"/>
<rect x="262.8" y="1158.9" width="2044.3" height="17.3"/>
<rect x="262.8" y="1175.9" width="2044.2" height="17.3"/>
<rect x="262.9" y="1192.8" width="2027.1" height="17.3"/>
<rect x="262.9" y="1209.8" width="1993.0" height="17.3"/>
<rect x="297.0" y="1226.8" width="1941.8" height="17.3"/>
<rect x="382.2" y="1243.8" width="1856.6" height="17.3"/>
<rect x="399.3" y="1260.7" width="1839.5" height="17.3"/>
<rect x="433.3" y="1277.7" width="1788.4" height="17.3"/>
<rect x="450.4" y="1294.7" width="1754.3" height="17.3"/>
<rect x="484.5" y="1311.7" width="1703.1" height="17.3"/>
<rect x="501.5" y="1328.6" width="1669.0" height="17.3"/>
<rect x="535.6" y="1345.6" width="1634.9" height="17.3"/>
<rect x="552.7" y="1362.6" width="1600.8" height="17.3"/>
<rect x="637.9" y="1379.6" width="85.1" height="17.3"/>
<rect x="791.1" y="1379.6" width="1362.4" height="17.3"/>
<rect x="825.2" y="1396.5" width="1328.3" height="17.3"/>
<rect x="842.2" y="1413.5" width="1311.2" height="17.3"/>
<rect x="859.3" y="1430.5" width="1294.1" height="17.3"/>
<rect x="859.3" y="1447.5" width="1294.1" height="17.3"/>
<rect x="876.3" y="1464.4" width="1294.1" height="17.3"/>
<rect x="893.4" y="1481.4" width="902.4" height="17.3"/>
<rect x="1812.8" y="1481.4" width="34.1" height="17.3"/>
<rect x="1897.9" y="1481.4" width="272.4" height="17.3"/>
<rect x="893.4" y="1498.4" width="834.3" height="17.3"/>
<rect x="1949.0" y="1498.4" width="34.1" height="17.3"/>
<rect x="2051.2" y="1498.4" width="136.2" height="17.3"/>
<rect x="893.4" y="1515.3" width="817.2" height="17.3"/>
<rect x="2068.2" y="1515.3" width="136.2" height="17.3"/>
<rect x="910.4" y="1532.3" width="102.2" height="17.3"/>
<rect x="1029.6" y="1532.3" width="698.0" height="17.3"/>
<rect x="2085.2" y="1532.3" width="119.2" height="17.3"/>
<rect x="927.5" y="1549.3" width="68.1" height="17.3"/>
<rect x="1080.7" y="1549.3" width="391.6" height="17.3"/>
<rect x="1540.4" y="1549.3" width="51.1" height="17.3"/>
<rect x="1608.5" y="1549.3" width="119.2" height="17.3"/>
<rect x="2102.2" y="1549.3" width="119.2" height="17.3"/>
<rect x="944.5" y="1566.3" width="34.0" height="17.3"/>
<rect x="1097.7" y="1566.3" width="340.5" height="17.3"/>
<rect x="1642.5" y="1566.3" width="51.1" height="17.3"/>
<rect x="1727.6" y="1566.3" width="17.0" height="17.3"/>
<rect x="2102.2" y="1566.3" width="119.2" height="17.3"/>
<rect x="1114.8" y="1583.2" width="306.4" height="17.3"/>
<rect x="2102.2" y="1583.2" width="136.2" height="17.3"/>
<rect x="1114.8" y="1600.2" width="289.4" height="17.3"/>
<rect x="2102.1" y="1600.2" width="136.2" height="17.3"/>
<rect x="1114.8" y="1617.2" width="255.3" height="17.3"/>
<rect x="2102.1" y="1617.2" width="17.0" height="17.3"/>
<rect x="2136.2" y="1617.2" width="119.2" height="17.3"/>
<rect x="1131.8" y="1634.2" width="221.3" height="17.3"/>
<rect x="2119.1" y="1634.2" width="153.2" height="17.3"/>
<rect x="1131.8" y="1651.2" width="187.2" height="17.3"/>
<rect x="2136.1" y="1651.2" width="136.2" height="17.3"/>
<rect x="1148.8" y="1668.1" width="153.2" height="17.3"/>
<rect x="2170.1" y="1668.1" width="102.1" height="17.3"/>
<rect x="1165.9" y="1685.1" width="136.2" height="17.3"/>
<rect x="2153.1" y="1685.1" width="119.1" height="17.3"/>
<rect x="1165.9" y="1702.1" width="119.1" height="17.3"/>
<rect x="2187.1" y="1702.1" width="102.1" height="17.3"/>
<rect x="1165.9" y="1719.1" width="119.1" height="17.3"/>
<rect x="2204.1" y="1719.1" width="68.1" height="17.3"/>
<rect x="1182.9" y="1736.0" width="102.1" height="17.3"/>
<rect x="2221.1" y="1736.0" width="51.1" height="17.3"/>
<rect x="1182.9" y="1753.0" width="119.1" height="17.3"/>
<rect x="2238.1" y="1753.0" width="34.0" height="17.3"/>
<rect x="1216.9" y="1770.0" width="85.1" height="17.3"/>
<rect x="1268.0" y="1787.0" width="34.0" height="17.3"/>
<path d="M2591.9,394.0 L2599.1,411.9 L2599.1,446.0 L2581.6,446.0 L2581.6,463.2 L2564.4,463.2 L2564.4,480.1 L2547.1,480.1 L2547.1,496.9 L2530.3,496.9 L2530.3,514.2 L2494.5,514.2 L2494.5,564.5 L2483.2,564.5 L2481.6,527.1 L2507.5,504.4 L2533.5,481.7 L2559.5,455.7 L2582.2,436.2 L2598.4,416.8Z"/>
</g>
<g fill="#97b6e1" shape-rendering="crispEdges">
<path d="M1647.3,420.0 L1650.5,397.3 L1663.5,390.8 L1679.7,371.3 L1686.2,361.6 L1696.0,359.9 L1712.2,368.1 L1728.4,369.7 L1757.7,366.4 L1765.8,376.2 L1772.3,394.0 L1780.4,403.8 L1790.1,411.9 L1809.6,411.9 L1830.7,410.3 L1825.8,429.7 L1845.3,444.4 L1840.5,463.8 L1858.3,471.9 L1855.1,488.2 L1849.0,496.9 L1830.2,496.9 L1830.2,479.9 L1728.3,479.9 L1728.3,462.8 L1711.0,462.8 L1711.0,446.0 L1643.3,446.0 L1643.3,429.0Z"/>
<rect x="1626.0" y="429.0" width="17.0" height="16.9"/>
<rect x="1591.8" y="445.9" width="102.4" height="17.0"/>
<rect x="1574.8" y="462.9" width="102.3" height="17.0"/>
<rect x="1694.2" y="462.9" width="34.1" height="17.0"/>
<rect x="1557.7" y="479.9" width="34.1" height="17.0"/>
<rect x="1608.9" y="479.9" width="51.1" height="17.0"/>
<rect x="1728.3" y="479.9" width="68.2" height="17.0"/>
<rect x="1540.7" y="496.9" width="17.0" height="16.9"/>
<rect x="1591.8" y="496.9" width="34.1" height="16.9"/>
<rect x="1796.4" y="530.8" width="51.2" height="17.0"/>
<rect x="1779.4" y="547.8" width="51.1" height="17.0"/>
<rect x="1745.3" y="564.8" width="85.2" height="16.9"/>
<rect x="1762.3" y="581.7" width="34.1" height="34.0"/>
<rect x="1745.2" y="615.7" width="51.2" height="84.9"/>
<rect x="1762.3" y="598.7" width="34.1" height="17.0"/>
<rect x="1745.2" y="615.7" width="51.2" height="84.9"/>
<rect x="1728.1" y="700.6" width="68.2" height="16.9"/>
<rect x="1745.2" y="717.5" width="68.1" height="51.0"/>
<rect x="1745.1" y="768.5" width="51.2" height="16.9"/>
<rect x="1762.2" y="785.4" width="17.0" height="17.0"/>
<path d="M1900.0,503.9 L1920.3,502.9 L1944.6,499.9 L1967.0,499.9 L1981.2,500.9 L1983.2,505.9 L1991.3,504.9 L2009.6,503.9 L2019.7,505.9 L2025.8,515.1 L2038.0,523.2 L2050.2,530.3 L2056.2,541.5 L2062.3,550.6 L2068.4,557.7 L2074.5,561.8 L2064.4,562.8 L2056.2,565.8 L2064.4,573.9 L2062.3,584.1 L2051.2,583.1 L2040.0,580.0 L2031.9,575.6 L2025.8,582.0 L2023.8,573.9 L2016.7,573.9 L2010.6,567.8 L2008.6,573.9 L2010.6,585.1 L2005.5,596.2 L1999.4,604.4 L1997.4,618.6 L1999.4,634.8 L2002.5,647.0 L2003.5,658.1 L2000.4,669.3 L1992.3,676.4 L1985.2,683.5 L1978.1,681.5 L1967.4,683.5 L1967.4,632.8 L1933.1,632.8 L1933.1,598.7 L1916.0,598.7 L1916.0,564.8 L1899.0,564.8 L1899.0,547.8 L1864.3,547.8 L1864.3,530.9 L1899.0,530.9 L1899.0,513.9 L1881.5,513.9 L1881.5,502.9Z"/>
<rect x="1915.7" y="615.7" width="17.1" height="33.9"/>
<rect x="1898.6" y="649.6" width="17.1" height="17.0"/>
<path d="M1967.4,721.0 L1983.2,721.0 L1983.2,734.2 L1967.4,734.2Z"/>
<path d="M1950.2,752.6 L1971.9,752.6 L1986.6,742.9 L2004.4,729.9 L2014.2,716.9 L2017.7,713.9 L2025.8,705.8 L2042.0,700.8 L2062.3,701.8 L2072.5,697.7 L2072.5,692.6 L2082.6,683.5 L2102.9,676.4 L2123.2,671.3 L2135.4,672.3 L2137.8,683.5 L2120.8,683.5 L2120.8,700.6 L2103.7,700.6 L2103.7,717.6 L2086.7,717.6 L2086.7,734.4 L2052.6,734.4 L2051.5,751.9 L2034.6,751.9 L2034.6,768.8 L2001.2,768.8 L2001.2,786.0 L1984.0,786.0 L1984.0,768.8 L1967.1,768.8 L1967.1,776.9 L1950.2,776.9Z"/>
<path d="M2090.7,649.0 L2093.8,634.8 L2099.9,627.7 L2109.0,618.6 L2115.1,612.5 L2125.2,607.4 L2145.5,600.3 L2165.8,591.2 L2176.0,586.1 L2184.1,582.0 L2194.2,592.2 L2204.4,586.1 L2212.5,569.9 L2222.6,565.8 L2223.1,582.0 L2240.1,582.0 L2240.1,598.7 L2223.1,598.7 L2223.1,632.8 L2120.8,632.8 L2120.8,642.9 L2115.1,651.0 L2105.0,655.1 L2094.8,654.7Z"/>
</g>
<g fill="#efefdb">
<path d="M1904.1,519.1 L1920.3,517.1 L1940.6,518.1 L1958.8,511.0 L1969.0,511.0 L1977.1,517.1 L1981.2,525.2 L1977.1,532.3 L1967.0,532.3 L1950.7,529.3 L1930.4,525.2 L1910.1,523.2 L1900.0,521.2 L1891.9,520.2Z"/>
<path d="M1985.2,552.6 L1993.3,549.6 L2003.5,550.6 L2005.5,561.8 L2010.6,569.9 L2001.5,565.8 L1995.4,559.7Z"/>
</g>
<g fill="#a7d0e4" shape-rendering="crispEdges">
<rect x="1660.1" y="412.0" width="17.0" height="17.0"/>
<rect x="1694.2" y="445.9" width="17.0" height="17.0"/>
<rect x="1677.1" y="462.9" width="17.1" height="17.0"/>
</g>
<g fill="#559ec9" shape-rendering="crispEdges">
<rect x="397.9" y="361.1" width="17.1" height="33.9"/>
<rect x="312.9" y="547.8" width="17.1" height="17.0"/>
<rect x="704.8" y="293.2" width="34.2" height="16.9"/>
<rect x="704.9" y="310.1" width="102.3" height="17.0"/>
<rect x="704.9" y="327.1" width="102.3" height="17.0"/>
<rect x="841.3" y="327.1" width="85.3" height="17.0"/>
<rect x="721.9" y="344.1" width="273.0" height="17.0"/>
<rect x="722.0" y="361.1" width="255.8" height="16.9"/>
<rect x="1097.2" y="361.1" width="51.2" height="16.9"/>
<rect x="722.0" y="378.0" width="255.8" height="17.0"/>
<rect x="1080.2" y="378.0" width="68.2" height="17.0"/>
<rect x="722.0" y="395.0" width="34.1" height="17.0"/>
<rect x="773.2" y="395.0" width="204.6" height="17.0"/>
<rect x="1063.1" y="395.0" width="85.3" height="17.0"/>
<rect x="790.2" y="412.0" width="204.7" height="17.0"/>
<rect x="1063.1" y="412.0" width="68.2" height="17.0"/>
<rect x="824.4" y="429.0" width="170.5" height="16.9"/>
<rect x="1080.2" y="429.0" width="34.1" height="16.9"/>
<rect x="824.4" y="445.9" width="170.5" height="17.0"/>
<rect x="858.5" y="462.9" width="119.4" height="17.0"/>
<rect x="858.5" y="479.9" width="102.3" height="17.0"/>
<rect x="858.5" y="496.9" width="68.2" height="16.9"/>
<rect x="1216.7" y="513.8" width="17.0" height="17.0"/>
<rect x="1182.5" y="530.8" width="51.2" height="17.0"/>
<rect x="1165.5" y="547.8" width="68.2" height="17.0"/>
<rect x="1148.5" y="564.8" width="68.2" height="16.9"/>
<rect x="1131.4" y="581.7" width="85.3" height="17.0"/>
<rect x="1131.4" y="598.7" width="85.3" height="17.0"/>
<rect x="1165.5" y="615.7" width="51.2" height="17.0"/>
<rect x="1182.6" y="632.7" width="17.0" height="16.9"/>
<rect x="1830.5" y="564.8" width="51.2" height="16.9"/>
<rect x="1830.5" y="581.7" width="34.1" height="17.0"/>
<rect x="313.2" y="751.5" width="17.1" height="17.0"/>
<rect x="296.2" y="768.5" width="51.2" height="16.9"/>
<rect x="296.3" y="785.4" width="51.1" height="17.0"/>
<rect x="381.5" y="785.4" width="51.1" height="17.0"/>
<rect x="296.3" y="802.4" width="51.1" height="17.0"/>
<rect x="381.5" y="802.4" width="51.1" height="17.0"/>
<rect x="552.0" y="802.4" width="17.0" height="17.0"/>
<rect x="296.3" y="819.4" width="51.2" height="17.0"/>
<rect x="398.6" y="819.4" width="51.1" height="17.0"/>
<rect x="552.0" y="819.4" width="17.0" height="17.0"/>
<rect x="313.4" y="836.4" width="34.1" height="16.9"/>
<rect x="398.6" y="836.4" width="51.1" height="16.9"/>
<rect x="535.0" y="836.4" width="51.1" height="16.9"/>
<rect x="756.5" y="836.4" width="34.1" height="16.9"/>
<rect x="313.4" y="853.3" width="51.1" height="17.0"/>
<rect x="398.6" y="853.3" width="68.2" height="17.0"/>
<rect x="535.0" y="853.3" width="51.1" height="17.0"/>
<rect x="739.5" y="853.3" width="51.1" height="17.0"/>
<rect x="330.5" y="870.3" width="34.1" height="17.0"/>
<rect x="415.7" y="870.3" width="34.1" height="17.0"/>
<rect x="535.0" y="870.3" width="51.1" height="17.0"/>
<rect x="756.6" y="870.3" width="34.1" height="17.0"/>
<rect x="330.5" y="887.3" width="51.1" height="17.0"/>
<rect x="432.8" y="887.3" width="17.0" height="17.0"/>
<rect x="535.0" y="887.3" width="51.2" height="17.0"/>
<rect x="330.5" y="904.3" width="51.2" height="16.9"/>
<rect x="415.8" y="904.3" width="51.1" height="16.9"/>
<rect x="518.0" y="904.3" width="51.1" height="16.9"/>
<rect x="330.6" y="921.2" width="51.1" height="17.0"/>
<rect x="415.8" y="921.2" width="34.1" height="17.0"/>
<rect x="671.4" y="921.2" width="17.1" height="17.0"/>
<rect x="347.6" y="938.2" width="34.1" height="17.0"/>
<rect x="671.4" y="938.2" width="34.1" height="17.0"/>
<rect x="364.7" y="955.2" width="34.1" height="17.0"/>
<rect x="194.3" y="972.2" width="17.1" height="16.9"/>
<rect x="194.4" y="989.1" width="34.0" height="17.0"/>
<rect x="177.4" y="1006.1" width="51.1" height="17.0"/>
<rect x="620.4" y="1006.1" width="17.0" height="17.0"/>
<rect x="876.0" y="972.2" width="34.0" height="33.9"/>
<rect x="1949.7" y="785.4" width="34.1" height="17.0"/>
<rect x="1966.7" y="768.5" width="17.1" height="16.9"/>
<rect x="382.2" y="1243.8" width="17.0" height="16.9"/>
</g>
<g fill="#e2edf3" shape-rendering="crispEdges">
<rect x="295.5" y="327.1" width="51.2" height="34.0"/>
<rect x="295.5" y="361.1" width="34.2" height="16.9"/>
<rect x="312.6" y="378.0" width="17.1" height="17.0"/>
<rect x="739.3" y="666.6" width="17.1" height="34.0"/>
<rect x="961.5" y="1481.4" width="17.0" height="17.0"/>
</g>
<g fill="none" stroke="#000" stroke-width="4.5" stroke-dasharray="4.7 6.34">
<path d="M498.9,435.6 L502.1,444.4 L510.3,455.1 L508.6,463.8 L500.5,475.2 L490.8,488.2 L482.7,501.2 L476.2,509.3 L466.4,515.8 L460.9,523.9 L461.6,533.6 L469.7,541.8 L463.2,556.4 L458.3,564.5 L455.1,575.8 L450.2,595.3 L445.3,614.8 L440.5,634.3 L435.6,655.1"/>
<path d="M581.7,270.6 L576.8,283.6 L571.9,299.9 L568.7,316.1 L565.5,329.1 L570.3,342.1 L571.9,361.6 L575.2,369.7 L584.9,381.0 L589.8,394.0 L596.3,411.9 L604.4,420.0 L614.2,424.9 L609.3,439.5 L602.8,452.5 L600.5,467.1 L593.1,475.2 L589.8,483.3 L596.3,492.4 L607.7,489.8 L614.2,484.3 L620.0,491.4 L620.6,504.4 L623.9,517.4 L627.1,527.1 L626.5,536.9 L632.0,545.0 L638.5,549.9 L640.1,562.9 L642.7,571.9 L651.5,567.7 L661.2,571.0 L671.0,567.7 L685.6,572.6 L701.8,575.2 L708.3,567.7 L714.8,566.1 L719.7,579.1 L724.5,572.6 L727.8,554.7"/>
<path d="M722.9,575.8 L718.1,605.1 L711.6,634.3 L707.7,655.1"/>
<path d="M119.0,568.7 L149.9,580.1 L214.8,603.4 L296.0,629.4"/>
<path d="M726.5,554.7 L784.9,564.5 L866.1,575.8 L947.3,587.2 L1027.8,598.6"/>
<path d="M2497.8,284.3 L2489.7,280.4 L2488.1,267.4 L2486.4,251.2 L2494.5,244.7 L2510.8,238.2 L2523.8,242.1 L2540.0,233.3 L2546.5,223.6"/>
<path d="M2426.4,444.4 L2434.5,459.0 L2442.6,481.7 L2452.3,507.7 L2462.1,530.4 L2468.6,546.6 L2478.3,558.0"/>
<path d="M427.5,668.2 L474.5,679.5 L559.0,703.2"/>
<path d="M435.6,655.2 L427.5,668.2"/>
<path d="M297.6,629.9 L279.7,694.2 L260.3,755.8 L244.7,806.2"/>
<path d="M559.0,703.2 L549.2,746.1 L536.2,807.8 L523.2,866.2 L510.3,924.7 L497.3,976.6 L487.5,1018.8 L479.4,1048.1 L472.9,1054.5 L468.1,1056.2 L463.2,1049.7 L456.7,1044.8 L446.9,1045.5 L442.1,1051.3 L442.1,1064.3 L438.8,1085.1"/>
<path d="M707.7,655.2 L701.8,681.2 L692.1,730.8"/>
<path d="M772.6,811.0 L763.5,859.7 L753.8,908.4 L744.0,973.4 L734.3,1022.1 L731.0,1049.7 L724.5,1085.1"/>
<path d="M490.8,1001.0 L571.9,1018.8 L636.9,1031.8 L731.0,1049.7"/>
<path d="M2101.8,713.6 L2101.8,726.6 L2111.6,728.2 L2166.8,716.9 L2220.0,703.9"/>
<path d="M2219.9,703.9 L2267.3,693.5 L2296.5,686.7 L2306.2,688.3 L2314.4,694.2 L2319.2,703.9 L2325.7,710.4 L2337.1,713.6"/>
<path d="M2205.6,856.5 L2221.8,854.9 L2228.3,863.0 L2231.6,869.5 L2247.8,879.2 L2264.0,885.7 L2273.8,887.3"/>
<path d="M438.8,1085.2 L435.6,1099.8 L432.3,1109.5 L434.0,1124.2 L437.2,1137.1 L438.8,1148.5 L447.9,1156.6 L432.3,1169.6 L424.2,1179.4 L421.0,1192.3 L414.5,1202.1 L403.1,1211.8 L402.5,1224.8 L409.6,1232.9 L409.6,1242.7 L403.1,1250.8 L390.1,1250.8"/>
<path d="M724.5,1085.2 L714.8,1143.6 L701.8,1224.8 L688.8,1296.2 L677.5,1361.2 L672.6,1394.3"/>
<path d="M894.7,1515.2 L896.9,1524.9 L901.8,1533.1 L909.9,1541.2 L918.1,1550.9 L927.8,1557.4 L940.8,1563.2 L950.5,1572.0 L960.3,1580.1 L966.8,1582.7 L974.9,1580.8 L979.7,1573.6 L987.9,1567.1 L991.1,1555.8 L996.0,1546.0 L1004.1,1539.5 L1013.8,1537.3 L1025.2,1532.1 L1036.6,1537.9 L1057.7,1540.5 L1070.6,1541.8 L1077.1,1550.9 L1088.5,1560.6 L1096.6,1572.0 L1106.4,1583.4 L1111.2,1589.9 L1112.9,1601.2 L1117.7,1612.6 L1124.2,1622.3 L1125.8,1632.1 L1130.7,1640.2 L1137.2,1648.3 L1143.7,1658.1 L1150.2,1669.4 L1156.7,1677.5 L1166.4,1684.0 L1169.7,1692.1 L1168.1,1703.5 L1171.3,1713.2 L1171.3,1721.4 L1177.8,1731.1 L1182.7,1742.5 L1184.3,1752.2 L1189.2,1761.9 L1200.5,1765.2 L1210.3,1771.7 L1221.6,1774.9 L1233.0,1781.4 L1242.7,1786.3 L1260.6,1788.6 L1271.9,1792.8 L1281.7,1799.3 L1291.4,1797.7 L1297.9,1791.2"/>
<path d="M1640.8,424.9 L1647.3,413.5 L1653.8,397.3 L1666.8,390.8 L1679.7,381.0 L1686.2,402.1 L1712.2,413.5 L1744.7,429.7 L1777.1,446.0 L1809.6,462.2 L1835.6,471.9 L1842.1,481.7 L1855.1,491.4 L1868.1,494.7 L1874.5,504.4 L1890.8,514.2 L1907.0,522.3 L1939.5,543.4 L1945.7,550.6 L1951.7,558.7 L1954.8,568.9 L1958.8,580.0 L1961.9,591.2 L1965.9,601.3 L1969.0,611.5 L1972.0,621.6 L1976.1,631.8 L1979.1,642.9 L1982.2,653.1 L1983.2,663.2 L1981.2,673.4 L1978.1,681.5 L1977.1,699.7 L1975.1,716.0"/>
<path d="M1631.9,428.6 L1621.8,435.7 L1601.5,444.8 L1592.3,450.9 L1584.2,457.0 L1576.1,466.1 L1569.0,473.2 L1560.9,482.3 L1553.8,490.4 L1545.7,496.5 L1537.5,504.7 L1531.5,512.8 L1530.4,521.9 L1530.4,544.2 L1526.4,551.3 L1519.9,554.6"/>
<path d="M1541.6,510.7 L1552.8,508.7 L1562.9,505.7 L1571.0,500.6 L1581.2,495.5 L1591.3,492.5 L1599.4,495.5 L1605.5,487.4 L1601.5,493.5 L1595.4,500.6 L1587.3,503.6 L1586.2,513.8 L1594.4,508.7 L1601.5,512.8 L1610.6,516.2 L1617.7,511.8 L1625.8,504.7 L1633.9,498.6 L1645.1,494.5 L1655.2,490.4 L1662.3,484.4 L1671.5,477.3 L1678.6,471.2 L1684.7,463.1 L1692.8,455.9 L1703.9,450.9 L1713.1,451.9 L1715.1,454.9 L1707.0,460.0 L1698.9,467.1 L1692.8,475.2 L1686.7,479.3 L1687.7,487.4 L1691.8,493.5 L1697.8,485.4 L1709.0,485.4 L1720.2,488.4 L1728.3,495.5 L1735.4,503.6 L1743.5,507.3 L1753.7,506.7 L1763.8,507.3 L1771.9,502.6 L1781.0,495.5 L1790.2,490.4 L1800.3,489.4 L1812.5,488.4 L1822.6,483.3 L1832.8,479.3 L1840.9,483.3 L1834.8,491.5 L1836.9,496.5"/>
<path d="M1610.6,516.2 L1618.7,521.9 L1625.8,529.0 L1638.0,531.0 L1648.1,533.1 L1658.3,535.1 L1668.4,539.1 L1678.6,542.2 L1690.7,542.2 L1700.9,544.2 L1709.0,549.3 L1716.1,555.4 L1723.2,562.5 L1723.2,573.6 L1727.3,578.7 L1729.3,584.8 L1734.4,592.9 L1729.3,603.1 L1723.2,612.2 L1720.2,621.3 L1724.2,629.4"/>
<path d="M1756.7,542.2 L1753.7,552.3 L1746.6,562.5 L1745.5,572.6 L1739.4,581.8 L1736.4,592.9 L1731.3,603.1 L1729.3,613.2 L1735.4,610.2 L1745.5,605.1 L1753.7,595.0 L1756.7,586.8"/>
<path d="M1763.8,571.6 L1759.7,579.7 L1756.7,586.8 L1753.7,597.0 L1751.6,607.1 L1746.6,619.3 L1743.5,629.4 L1743.5,641.6 L1742.5,651.8 L1738.4,660.9 L1737.4,672.1 L1737.4,682.2 L1735.4,694.4"/>
<path d="M1822.6,603.1 L1812.5,592.9 L1803.4,598.0 L1801.3,608.1 L1796.3,615.2 L1797.3,626.4 L1796.3,637.6 L1791.2,646.7 L1791.2,655.8 L1794.2,667.0 L1791.2,677.1 L1795.3,688.3"/>
<path d="M1756.7,542.2 L1763.8,547.3 L1771.9,542.2 L1784.1,541.2 L1793.2,535.1 L1802.4,534.1 L1812.5,530.0 L1820.6,522.9 L1831.8,523.9 L1840.9,529.0 L1852.1,523.9 L1860.2,524.9 L1871.3,523.9 L1882.5,523.5 L1894.7,522.9"/>
<path d="M1842.9,540.2 L1838.9,549.3 L1841.9,558.4 L1842.9,564.5"/>
<path d="M1852.1,534.1 L1860.2,538.1 L1867.3,535.1"/>
<path d="M1802.4,582.8 L1810.5,583.8 L1820.6,581.8 L1824.7,592.9 L1816.6,597.0"/>
<path d="M1818.6,544.2 L1819.6,550.3 L1816.6,554.4"/>
<path d="M1863.2,540.2 L1873.4,544.2 L1882.5,551.3 L1893.7,554.4 L1902.8,556.4"/>
<path d="M1869.3,495.5 L1871.3,503.6 L1879.5,515.8 L1885.6,519.9 L1903.8,532.0"/>
<path d="M1836.9,496.5 L1845.0,491.5 L1853.1,489.4 L1861.2,495.5 L1869.3,499.6 L1875.4,507.7 L1881.5,515.8"/>
<path d="M1840.9,467.1 L1849.0,468.1 L1858.2,471.2 L1855.1,481.3 L1853.1,489.4"/>
<path d="M1881.5,500.6 L1892.7,502.6 L1902.8,503.6 L1914.0,504.7 L1925.1,502.6 L1935.3,501.6 L1946.4,499.6 L1956.6,501.2 L1966.7,500.2 L1983.0,500.6 L1995.1,504.7"/>
<path d="M1903.8,517.8 L1914.0,518.9 L1924.1,519.9 L1931.2,515.8 L1942.4,515.8 L1954.5,513.8 L1964.7,511.8 L1970.8,509.7 L1976.9,513.8 L1983.0,519.9 L1980.9,530.0 L1970.8,533.1 L1960.6,530.0 L1949.5,529.0 L1938.3,524.9 L1927.2,524.9 L1916.0,521.9 L1903.8,517.8"/>
<path d="M1646.1,416.4 L1652.2,424.5 L1656.2,432.6 L1664.4,427.5 L1672.5,420.4 L1678.6,412.3 L1674.5,406.2 L1668.4,411.3 L1662.3,418.4 L1658.3,416.4 L1662.3,409.3 L1670.5,402.2 L1678.6,396.1"/>
<path d="M1650.2,396.1 L1650.2,406.2 L1646.1,416.4"/>
<path d="M1786.1,427.5 L1794.2,424.5 L1800.3,426.5 L1794.2,421.5"/>
<path d="M1981.2,500.9 L1983.2,505.9 L1991.3,504.9 L2009.6,503.9 L2019.7,505.9 L2025.8,515.1 L2038.0,523.2 L2050.2,530.3 L2056.2,541.5 L2062.3,550.6 L2068.4,557.7 L2074.5,561.8 L2064.4,562.8 L2056.2,565.8 L2064.4,573.9 L2062.3,584.1 L2051.2,583.1 L2040.0,580.0 L2031.9,575.6 L2025.8,582.0 L2023.8,573.9 L2016.7,573.9 L2010.6,567.8 L2008.6,573.9 L2010.6,585.1 L2005.5,596.2 L1999.4,604.4 L1997.4,618.6 L1999.4,634.8 L2002.5,647.0 L2003.5,658.1 L2000.4,669.3 L1992.3,676.4 L1985.2,683.5 L1978.1,681.5"/>
<path d="M1985.2,552.6 L1993.3,549.6 L2003.5,550.6 L2005.5,561.8 L2010.6,569.9"/>
<path d="M1969.0,511.0 L1977.1,517.1 L1981.2,525.2 L1977.1,532.3"/>
<path d="M1900.0,555.7 L1913.2,560.7 L1919.3,569.9 L1915.2,573.9 L1917.2,583.1 L1922.3,592.2 L1924.4,602.3 L1924.4,613.5 L1918.3,621.6 L1916.2,631.8 L1910.1,640.9 L1903.0,648.0 L1904.1,658.1 L1913.2,663.2 L1921.3,656.1 L1928.4,648.0 L1930.4,639.9 L1938.6,633.8 L1948.7,632.8 L1956.8,639.9 L1960.9,649.0 L1964.9,659.2 L1969.0,671.3 L1973.1,680.5 L1978.1,682.5"/>
<path d="M1963.9,715.0 L1970.0,718.0 L1967.0,724.1 L1960.9,726.1 L1967.0,733.2 L1979.1,732.2 L1984.2,725.1 L1975.1,722.1"/>
<path d="M1960.9,734.2 L1952.8,743.0"/>
<path d="M1990.3,743.0 L2009.6,728.1 L2017.7,713.9 L2025.8,705.8 L2042.0,700.8 L2062.3,701.8 L2072.5,697.7 L2072.5,692.6 L2082.6,683.5 L2102.9,676.4 L2123.2,671.3 L2135.4,672.3"/>
<path d="M2021.8,743.0 L2031.9,734.2 L2050.2,724.1 L2070.5,716.0 L2088.7,703.8 L2107.0,691.6 L2117.1,685.5 L2129.3,675.4"/>
<path d="M2068.4,739.3 L2082.6,728.1 L2094.8,720.0 L2100.9,715.0 L2111.0,705.8 L2117.1,697.7 L2124.2,690.6 L2129.3,681.5 L2135.4,672.3"/>
<path d="M2117.1,633.8 L2118.1,640.9 L2122.2,651.0 L2124.2,661.2 L2135.4,671.3"/>
<path d="M2090.7,649.0 L2093.8,634.8 L2099.9,627.7 L2109.0,618.6 L2115.1,612.5 L2125.2,607.4 L2145.5,600.3 L2165.8,591.2 L2176.0,586.1 L2173.9,580.0 L2184.1,578.0 L2194.2,573.9 L2204.4,571.9 L2212.5,567.8 L2222.6,562.8 L2232.8,555.7 L2242.9,548.6 L2247.0,539.4 L2253.1,529.3 L2259.2,520.2 L2265.3,512.0 L2273.4,503.9 L2281.5,500.9"/>
<path d="M2117.1,633.8 L2126.3,626.7 L2136.4,622.6 L2157.7,617.6 L2179.0,612.5 L2200.3,608.4 L2212.5,605.4 L2215.5,596.2 L2218.6,586.1 L2221.6,573.9 L2224.7,565.8"/>
<path d="M2118.1,640.9 L2133.4,640.9 L2143.5,635.8 L2153.7,632.8 L2163.8,630.7 L2176.0,630.7 L2186.1,632.8 L2196.3,629.7 L2208.4,626.7 L2216.6,623.6 L2223.7,617.6 L2230.8,608.4 L2240.9,602.3"/>
<path d="M2175.0,587.1 L2183.1,591.2 L2194.2,594.2 L2203.4,589.1 L2199.3,580.0 L2194.2,573.9"/>
<path d="M2222.6,562.8 L2228.7,571.9 L2236.9,573.9 L2238.9,580.0 L2232.8,585.1"/>
<path d="M1744.7,600.0 L1741.4,619.5 L1743.1,635.7 L1739.8,651.9 L1736.6,664.9 L1733.3,684.4 L1731.7,703.9 L1736.6,720.1 L1741.4,736.4 L1743.1,752.6 L1744.7,768.8 L1751.2,781.8 L1756.0,791.6 L1759.3,801.3"/>
<path d="M1801.5,600.0 L1798.2,613.0 L1796.6,629.2 L1790.1,642.2 L1790.1,655.2 L1793.4,668.2 L1790.1,677.9 L1795.0,689.3 L1803.1,699.0 L1809.6,713.6 L1811.2,729.9 L1811.2,742.9 L1808.0,755.8 L1803.1,768.8 L1798.2,780.2 L1793.4,791.6 L1777.1,801.3 L1764.2,802.9 L1759.3,801.3"/>
<path d="M1730.1,601.6 L1721.9,613.0 L1720.3,622.7 L1723.6,629.2"/>
<path d="M1942.7,773.7 L1952.5,776.9 L1968.7,785.1 L1984.9,786.7 L2001.2,781.8 L2017.4,776.9 L2030.4,768.8 L2043.4,755.8 L2056.4,746.1 L2069.4,738.0"/>
<path d="M1952.5,762.3 L1968.7,772.1 L1984.9,768.8 L2001.2,759.1 L2017.4,746.1"/>
<path d="M1955.7,752.6 L1971.9,752.6 L1986.6,744.5"/>
<path d="M1968.7,718.5 L1962.2,723.4 L1971.9,726.6 L1983.3,726.6 L1978.4,733.1 L1962.2,733.1 L1954.1,739.6 L1952.5,752.6 L1946.0,762.3 L1942.7,773.7"/>
</g>
<g fill="none" stroke="#000" stroke-width="4.5" stroke-dasharray="7.5 3.54">
<path d="M250.5,346.0 L257.0,351.8 L258.6,364.8 L257.0,381.0 L266.8,387.5 L279.7,394.0 L296.0,392.4 L309.0,397.3 L318.7,405.4 L331.7,407.0 L354.4,410.3 L373.9,409.3 L393.4,409.6 L406.4,411.9 L414.5,411.2 L442.1,418.4 L474.5,428.1 L498.9,435.6"/>
<path d="M542.1,259.3 L536.2,280.4 L526.5,316.1 L518.4,348.6 L510.3,377.8 L503.8,400.5 L499.9,413.5 L500.5,426.5 L498.9,435.6"/>
<path d="M296.0,629.4 L344.7,644.0 L383.6,655.1"/>
<path d="M633.6,182.3 L643.4,186.2 L648.2,199.2 L649.9,218.7 L646.6,234.9 L639.5,247.9 L645.0,251.2 L643.4,262.5 L649.9,273.2 L656.4,278.8 L659.0,286.9"/>
<path d="M236.9,191.1 L247.3,202.5 L261.9,213.8 L276.5,221.9 L289.5,221.9 L296.0,212.2 L297.6,202.5 L302.5,189.5 L305.7,181.4"/>
<path d="M843.4,179.7 L832.0,241.4 L817.4,321.9"/>
<path d="M1164.2,179.7 L1162.2,267.4 L1160.6,361.6"/>
<path d="M1409.0,179.7 L1409.6,267.4 L1409.0,350.2"/>
<path d="M1053.8,361.6 L1049.5,397.3 L1044.7,446.0 L1039.8,494.7 L1034.9,536.9 L1031.0,575.8 L1027.8,598.6 L1023.6,640.8 L1021.9,655.1"/>
<path d="M1034.9,540.1 L1109.6,548.2 L1207.0,555.7 L1288.2,558.6 L1349.9,559.6"/>
<path d="M1327.1,373.9 L1328.8,397.3 L1329.7,423.2 L1333.6,439.5 L1339.5,459.0 L1340.1,481.7 L1340.8,507.7 L1342.7,523.9 L1349.9,540.1 L1350.8,559.6 L1346.6,571.0 L1338.5,578.4 L1343.4,588.8 L1354.7,598.6 L1354.7,624.5 L1354.7,655.1"/>
<path d="M1520.0,554.7 L1512.2,561.2 L1505.7,575.8 L1515.5,585.6 L1513.8,605.1"/>
<path d="M1647.3,420.0 L1650.5,397.3 L1663.5,390.8 L1679.7,371.3 L1686.2,361.6 L1696.0,359.9 L1712.2,368.1 L1728.4,369.7 L1757.7,366.4 L1765.8,376.2 L1772.3,394.0 L1780.4,403.8 L1790.1,411.9 L1809.6,411.9 L1830.7,410.3 L1825.8,429.7 L1845.3,444.4 L1840.5,463.8 L1858.3,471.9 L1855.1,488.2 L1868.1,494.7"/>
<path d="M2692.6,299.9 L2689.4,312.9"/>
<path d="M2338.7,489.8 L2343.6,504.4 L2351.7,522.3 L2351.7,536.9 L2356.6,553.1 L2361.4,567.7 L2367.9,567.7 L2372.8,582.3 L2377.7,601.8 L2380.9,616.4"/>
<path d="M2415.0,463.8 L2416.6,478.4 L2421.5,489.8 L2416.6,501.2 L2406.9,509.3 L2408.5,527.1 L2405.3,553.1 L2406.9,575.8 L2410.1,601.8 L2415.0,606.7"/>
<path d="M2380.9,616.4 L2415.0,606.7 L2445.8,599.2 L2465.3,594.4 L2475.1,582.3 L2481.6,577.5"/>
<path d="M2380.9,616.4 L2380.9,655.1"/>
<path d="M2400.4,655.1 L2429.6,645.6 L2455.6,639.2 L2475.1,634.9 L2484.8,650.5"/>
<path d="M2455.6,639.2 L2460.5,655.1"/>
<path d="M383.6,655.2 L427.5,668.2"/>
<path d="M559.0,703.2 L604.4,713.6 L692.1,730.8"/>
<path d="M244.7,806.2 L279.7,856.5 L312.2,908.4 L344.7,960.4 L377.1,1012.3 L414.5,1085.1"/>
<path d="M692.1,730.8 L687.2,759.1 L683.0,791.6 L734.3,802.9 L773.2,810.4 L820.0,815.9"/>
<path d="M731.0,1049.7 L766.8,1055.2 L820.0,1061.7"/>
<path d="M820.0,815.9 L882.3,827.3 L947.3,836.0 L1002.5,840.3 L1044.7,844.2 L1093.4,849.4 L1091.8,879.2 L1089.5,910.1"/>
<path d="M1089.5,910.1 L1174.5,916.6 L1271.9,920.8 L1369.4,922.1 L1400.2,922.1"/>
<path d="M1021.9,655.2 L1015.5,716.9 L1010.6,762.3 L1005.7,811.0 L1001.8,840.3"/>
<path d="M1015.5,718.5 L1077.1,725.0 L1174.5,732.5 L1263.8,736.4 L1271.9,742.9 L1278.4,747.7 L1286.6,748.7 L1294.7,745.1 L1310.9,745.1 L1320.6,751.0 L1336.9,758.1 L1348.2,767.2"/>
<path d="M1354.7,655.2 L1353.8,707.1"/>
<path d="M1349.9,708.8 L1434.3,708.8 L1520.0,705.5"/>
<path d="M1348.2,710.4 L1346.6,720.1 L1353.1,731.5 L1348.2,746.1 L1343.4,755.8 L1348.2,767.2 L1354.7,775.3 L1358.0,788.3 L1364.5,798.1 L1367.7,811.0 L1369.4,825.6 L1375.8,833.8 L1378.4,850.0 L1380.1,876.0 L1385.6,885.7 L1388.8,903.6 L1396.9,908.4 L1400.2,922.1 L1411.6,927.9 L1422.9,932.8 L1416.4,944.2 L1414.8,952.3 L1422.9,963.6 L1429.4,971.8 L1437.5,976.0 L1438.2,1022.1 L1438.5,1085.1"/>
<path d="M1385.6,885.7 L1434.3,884.7 L1520.0,882.5"/>
<path d="M1089.5,910.1 L1085.3,957.1 L1082.0,1005.8 L1078.8,1054.5 L1076.2,1085.1"/>
<path d="M820.0,1061.7 L882.3,1070.8 L947.3,1078.2 L1012.2,1085.1"/>
<path d="M1512.5,600.0 L1513.5,613.0 L1512.5,626.0 L1523.9,639.0 L1543.4,650.3 L1556.4,664.9 L1577.5,676.3 L1580.7,690.9 L1582.3,703.9 L1588.8,713.6 L1588.8,729.9 L1593.7,744.5 L1608.3,752.6 L1614.8,762.3 L1627.8,775.3 L1639.2,788.3 L1635.9,804.5 L1626.2,819.2 L1601.8,828.9 L1600.2,840.3 L1605.1,853.2 L1600.2,869.5 L1588.8,885.7 L1584.0,895.5 L1582.3,908.4 L1587.2,927.9 L1601.8,940.9 L1618.1,957.1 L1624.5,973.4 L1631.0,979.9 L1644.0,978.2 L1652.1,984.7 L1647.3,1002.6 L1642.4,1018.8 L1653.8,1031.8 L1670.0,1039.9 L1686.2,1052.9 L1691.1,1067.5 L1689.5,1077.3 L1692.7,1085.1"/>
<path d="M1520.0,705.5 L1579.1,703.2"/>
<path d="M1614.8,761.4 L1679.7,757.5 L1741.4,752.6"/>
<path d="M1520.0,882.5 L1567.7,879.9 L1575.8,887.3 L1584.0,893.8"/>
<path d="M1759.3,801.3 L1762.5,843.5 L1767.4,892.2 L1771.6,934.4 L1769.0,950.6 L1772.3,960.4 L1777.1,973.4 L1772.3,992.9 L1764.2,1005.8 L1757.7,1012.3 L1757.7,1028.6 L1756.0,1038.3"/>
<path d="M1882.7,781.8 L1887.5,827.3 L1894.0,876.0 L1898.9,924.7 L1902.1,940.9"/>
<path d="M1793.4,792.2 L1842.1,786.7 L1882.7,782.5 L1907.0,780.2 L1942.7,773.7"/>
<path d="M1756.0,1038.3 L1764.2,1031.8 L1773.9,1033.4 L1786.9,1028.6 L1798.2,1032.5 L1812.9,1023.7 L1824.2,1026.9 L1832.3,1012.3 L1838.8,1009.1 L1845.3,1015.6 L1855.1,1017.2 L1861.6,1002.6 L1869.7,994.5 L1877.8,979.9 L1877.8,969.5 L1890.8,969.5 L1905.4,958.8 L1903.8,949.0 L1902.1,940.9 L1910.3,940.9 L1921.6,940.9 L1933.0,953.9 L1946.0,957.1 L1957.3,961.0 L1968.7,958.8 L1976.8,961.0 L1988.2,955.5 L1996.3,952.9 L2004.4,960.4 L2014.2,966.9 L2016.8,983.1 L2027.1,994.5 L2036.9,1009.1 L2051.5,1017.2"/>
<path d="M2016.8,968.5 L2025.5,965.3 L2030.4,947.4 L2033.6,929.5 L2043.4,932.8 L2048.2,913.3 L2059.6,901.9 L2069.4,895.5 L2080.7,885.7 L2084.0,859.7 L2087.2,833.8 L2082.3,824.0 L2087.2,814.3"/>
<path d="M2072.6,738.0 L2079.1,778.6 L2085.6,820.8 L2093.7,853.2 L2098.6,872.7 L2147.3,862.3 L2199.2,851.6 L2220.0,846.8"/>
<path d="M2147.3,863.0 L2150.5,889.0 L2155.4,890.6 L2166.8,876.0 L2179.7,866.2 L2196.0,864.6 L2205.7,856.5"/>
<path d="M1984.9,1083.8 L2069.4,1070.8 L2134.3,1059.4 L2220.0,1041.6"/>
<path d="M2048.2,1025.3 L2030.4,1041.6 L2017.4,1054.5 L2001.2,1070.8 L1984.9,1083.8"/>
<path d="M1756.0,1038.3 L1752.8,1057.8 L1739.8,1064.3 L1734.9,1074.0 L1741.4,1085.1"/>
<path d="M1709.0,1080.5 L1721.9,1078.9 L1731.7,1082.1"/>
<path d="M2075.8,1070.8 L2077.5,1085.1"/>
<path d="M2337.1,713.6 L2358.2,720.1 L2377.7,726.0"/>
<path d="M2337.1,713.6 L2333.8,729.9 L2327.3,741.2 L2330.6,751.0 L2329.0,762.3 L2338.7,772.1 L2348.4,780.2 L2356.6,788.3 L2348.4,798.1 L2341.9,807.8"/>
<path d="M2219.9,846.8 L2267.3,835.4 L2314.4,824.7 L2325.7,814.9"/>
<path d="M2316.0,827.3 L2322.5,846.8 L2330.6,876.0 L2338.1,897.1 L2361.4,893.8"/>
<path d="M2231.6,869.5 L2229.9,880.8 L2215.3,876.0 L2202.3,869.5 L2200.7,885.7 L2192.6,898.7 L2179.6,913.3 L2173.1,927.9 L2169.9,937.7 L2161.8,939.3 L2152.0,932.8 L2148.8,950.6 L2143.9,966.9 L2135.8,983.1 L2132.5,994.5 L2134.2,1004.2 L2124.4,1009.1 L2108.2,1015.6 L2088.7,1025.3 L2074.1,1033.4 L2059.5,1028.6 L2051.4,1017.2"/>
<path d="M2219.9,1041.6 L2234.8,1038.3 L2299.7,1025.3 L2351.7,1015.6"/>
<path d="M2380.9,655.2 L2384.2,674.7 L2390.6,697.4 L2393.9,707.1 L2389.0,716.9 L2390.6,721.8"/>
<path d="M2382.5,660.1 L2400.4,655.2"/>
<path d="M2460.5,655.2 L2466.9,677.9"/>
<path d="M2475.1,635.1 L2479.9,645.5 L2483.2,664.9"/>
<path d="M414.5,1085.2 L432.3,1109.5"/>
<path d="M1012.2,1085.2 L1026.8,1088.4 L1075.5,1092.3 L1174.5,1098.8 L1271.9,1104.0 L1369.4,1106.3 L1439.2,1105.6"/>
<path d="M1076.2,1085.2 L1075.5,1092.3"/>
<path d="M1026.8,1088.4 L1024.5,1118.3 L1018.7,1159.9 L1013.8,1208.6 L1009.0,1257.3 L1004.1,1306.0 L999.2,1354.7 L994.4,1390.4 L992.7,1395.3"/>
<path d="M1024.5,1118.3 L1077.1,1124.2 L1125.8,1127.4 L1171.3,1130.0 L1169.7,1176.1 L1167.4,1218.3 L1165.5,1247.5 L1174.5,1254.0 L1182.7,1261.2 L1194.0,1261.2 L1200.5,1257.9 L1205.4,1263.8 L1206.4,1271.9 L1216.8,1274.2 L1226.5,1278.4 L1236.2,1277.4 L1242.7,1282.6 L1252.5,1279.4 L1261.6,1280.0 L1263.8,1286.5 L1270.3,1293.0 L1273.6,1296.9 L1283.3,1289.7 L1293.1,1295.6 L1301.2,1299.5 L1307.7,1297.9 L1312.5,1306.0 L1319.0,1293.6 L1327.1,1297.9 L1336.9,1296.2 L1345.0,1302.7 L1353.1,1308.6 L1361.2,1302.7 L1369.4,1298.8 L1382.3,1297.9 L1390.5,1293.6 L1400.2,1298.8 L1409.9,1292.3 L1419.7,1297.9 L1429.4,1305.3 L1439.2,1309.9 L1450.5,1315.7 L1470.0,1316.4 L1471.6,1351.4 L1472.6,1387.1 L1472.6,1414.7 L1481.4,1424.5 L1487.9,1442.3 L1494.4,1455.3 L1502.5,1473.2 L1497.6,1491.0 L1491.1,1515.1"/>
<path d="M1438.5,1085.2 L1439.2,1105.6 L1439.8,1137.1 L1444.7,1172.9 L1448.9,1205.3 L1448.9,1257.3 L1448.2,1309.2"/>
<path d="M1439.8,1136.2 L1483.0,1134.5 L1520.0,1133.2"/>
<path d="M1472.6,1351.4 L1499.2,1350.8 L1520.0,1349.8"/>
<path d="M803.8,1387.1 L807.0,1383.9 L804.4,1373.5 L882.3,1382.3 L947.3,1390.4 L992.7,1395.3"/>
<path d="M1520.0,1349.8 L1566.1,1347.5 L1621.3,1344.9"/>
<path d="M1520.0,1133.2 L1582.3,1130.6 L1657.0,1127.4 L1665.1,1133.9 L1658.6,1146.9 L1650.5,1159.2 L1683.0,1157.3"/>
<path d="M1692.7,1085.2 L1699.2,1091.7 L1707.3,1090.1 L1710.6,1099.8 L1709.0,1111.2 L1704.1,1117.7 L1696.0,1120.9 L1689.5,1133.9 L1686.2,1146.9 L1684.6,1159.9 L1683.0,1168.0 L1674.9,1176.1 L1671.6,1189.1 L1668.4,1198.8 L1669.4,1208.6 L1661.9,1216.7 L1660.3,1224.8 L1648.9,1234.5 L1647.3,1250.8 L1637.5,1260.5 L1631.0,1270.3 L1631.0,1280.0 L1624.5,1286.5 L1624.5,1296.2 L1618.1,1302.7 L1619.7,1312.5 L1621.3,1322.2 L1624.5,1331.9 L1622.9,1344.9 L1624.5,1354.7 L1623.9,1367.7 L1627.8,1379.0 L1635.9,1387.1 L1631.0,1400.1 L1627.8,1408.2 L1618.1,1418.0 L1613.2,1432.6 L1608.3,1445.6 L1605.1,1458.6 L1603.4,1471.6 L1647.3,1469.9 L1702.5,1466.7 L1705.7,1473.2 L1702.5,1484.5 L1702.5,1492.7 L1710.6,1500.8 L1715.5,1510.5 L1717.1,1515.1"/>
<path d="M1689.5,1124.8 L1696.0,1124.2 L1728.4,1122.5 L1757.7,1120.3 L1764.2,1116.0 L1764.2,1107.9 L1773.9,1108.9 L1842.1,1099.8 L1907.0,1093.3 L1984.9,1085.2"/>
<path d="M2077.5,1085.2 L2069.4,1093.3 L2061.2,1103.1 L2048.2,1107.9 L2040.1,1116.0 L2030.4,1112.8 L2022.3,1120.9 L2020.6,1127.4 L2010.9,1135.5 L2001.2,1143.6 L1991.4,1148.5 L1981.7,1151.8 L1973.6,1159.9 L1970.3,1169.6 L1962.2,1172.9 L1961.6,1187.5"/>
<path d="M1663.5,1219.9 L1712.2,1216.7 L1769.0,1211.8 L1842.1,1203.7 L1895.6,1197.9 L1962.2,1189.1 L2020.6,1180.0"/>
<path d="M1769.0,1211.8 L1772.3,1241.0 L1770.6,1289.7 L1770.0,1338.4 L1769.0,1387.1 L1769.0,1419.6 L1772.3,1445.6 L1777.1,1471.6 L1779.7,1497.5"/>
<path d="M1895.6,1197.9 L1903.8,1224.8 L1913.5,1257.3 L1923.2,1289.7 L1933.0,1322.2 L1939.5,1335.2 L1949.2,1349.8 L1952.5,1361.2 L1947.6,1370.9 L1946.0,1387.1 L1950.8,1403.4 L1952.5,1419.6 L1954.1,1432.6 L1959.0,1440.7"/>
<path d="M1959.0,1440.7 L1907.0,1447.2 L1858.3,1452.1 L1822.6,1455.3 L1821.0,1465.1 L1829.1,1473.2 L1832.3,1484.5 L1830.7,1497.5"/>
<path d="M1959.0,1440.7 L1968.7,1456.0 L2004.4,1453.7 L2069.4,1448.8 L2111.6,1444.9 L2114.8,1455.3 L2122.9,1452.1 L2121.3,1432.6 L2129.4,1427.7 L2147.3,1428.7"/>
<path d="M2020.6,1180.0 L2012.5,1197.2 L2023.9,1206.9 L2040.1,1211.8 L2049.9,1224.8 L2058.0,1234.5 L2072.6,1244.3 L2082.3,1254.0 L2096.9,1262.1 L2105.1,1273.5 L2118.1,1283.2 L2126.2,1293.0 L2132.7,1307.6 L2144.0,1315.7 L2152.1,1327.1 L2155.4,1338.4 L2163.5,1341.0"/>
<path d="M2020.6,1180.0 L2036.9,1171.2 L2056.4,1161.5 L2088.8,1157.3 L2121.3,1153.4 L2134.3,1158.2 L2140.8,1170.3 L2166.8,1166.4 L2197.6,1162.1 L2220.0,1176.1"/>
<path d="M2219.9,1176.1 L2262.4,1204.4"/>
<path d="M1491.1,1515.2 L1492.7,1524.9 L1487.9,1541.2 L1481.4,1550.9"/>
</g>
<g fill="none" stroke="#000" stroke-width="4.5" stroke-dasharray="8.9 2.14">
<path d="M321.9,189.5 L364.2,204.1 L414.5,221.9 L466.4,239.2 L539.5,259.3 L581.7,269.0 L656.4,286.9"/>
<path d="M817.4,321.9 L882.3,334.0 L947.3,343.7 L1012.2,351.8 L1054.4,357.7 L1109.6,363.2 L1158.3,365.8 L1207.0,369.0 L1271.9,371.9 L1327.1,373.9 L1369.4,374.5 L1409.0,374.5 L1409.0,350.2"/>
<path d="M1409.0,350.2 L1420.0,351.8 L1424.9,377.8 L1429.7,389.2 L1452.5,394.0 L1468.7,402.1 L1484.9,395.0 L1504.4,398.9 L1517.4,407.0 L1523.9,415.1 L1533.6,411.9 L1546.6,420.0 L1559.6,427.1 L1569.4,423.2 L1580.7,417.4 L1588.8,422.3 L1614.8,420.6 L1624.5,427.1 L1640.8,424.9"/>
<path d="M2007.7,184.6 L2014.2,209.0 L2020.6,251.2 L2030.4,299.9 L2038.5,332.3"/>
<path d="M2283.5,501.2 L2316.0,491.4 L2348.4,482.3 L2380.9,473.6 L2413.4,463.8 L2416.6,446.0 L2426.4,444.4 L2439.4,426.5 L2437.7,420.0 L2445.8,407.0 L2449.1,394.0 L2444.2,377.8 L2445.8,361.6 L2445.2,345.3 L2450.7,325.8 L2457.2,303.1 L2461.1,290.8 L2468.6,291.8 L2471.8,299.9 L2478.3,301.5 L2488.1,293.4 L2497.8,284.3 L2510.8,286.9 L2523.8,292.7 L2530.3,316.1 L2540.0,338.8 L2549.7,361.6 L2553.0,371.3 L2566.0,368.7 L2572.5,381.0 L2575.7,392.4 L2585.5,395.6 L2591.9,394.0"/>
<path d="M2040.0,338.8 L2044.9,371.3 L2049.7,400.5 L2059.5,426.5 L2075.7,442.7 L2091.9,458.3 L2111.4,461.6 L2143.9,462.2 L2160.1,470.3 L2176.4,476.8 L2182.9,471.3 L2199.1,488.2 L2212.1,489.8 L2228.3,486.6 L2247.8,475.2 L2267.3,463.8 L2280.3,462.2 L2286.8,465.5 L2288.4,478.4"/>
<path d="M270.0,1228.7 L296.0,1233.9 L344.7,1242.7 L386.9,1250.8 L385.3,1260.5 L425.8,1286.5 L474.5,1317.3 L523.2,1348.2 L568.7,1376.8 L620.6,1385.5 L672.6,1394.3 L714.8,1401.8 L718.1,1377.4 L722.9,1375.8 L766.8,1382.3 L805.7,1387.1"/>
<path d="M805.7,1387.1 L814.2,1390.4 L820.6,1400.1 L825.5,1409.9 L836.9,1419.6 L848.2,1434.2 L856.4,1445.6 L864.5,1453.7 L879.1,1465.1 L885.6,1473.2 L892.1,1487.8 L895.3,1504.0 L894.7,1515.1"/>
</g>
<g fill="none" stroke="#000" stroke-width="4.6">
<path d="M656.4,286.9 L705.1,298.2 L766.8,311.2 L820.0,321.9"/>
<path d="M720.0,301.5 L768.7,312.9 L817.4,321.9"/>
</g>
<g fill="none" stroke="#000" stroke-linejoin="round" stroke-linecap="round">
<path stroke-width="4.60" d="M234.3,179.1 L247.3,191.1 L261.9,204.1 L274.9,213.8 L279.7,215.5 L284.6,212.2 L290.1,212.9 L289.5,196.0 L286.9,179.1"/>
<path stroke-width="4.60" d="M317.1,179.7 L323.6,189.5 L323.6,202.5 L326.8,207.3 L325.2,218.7 L320.3,221.9 L321.9,231.7 L323.6,239.8 L321.9,247.9 L323.6,252.8 L317.1,259.3 L312.2,267.4 L309.0,277.1 L307.3,288.5 L299.2,292.7 L291.1,298.2 L286.2,299.9 L281.4,295.0 L274.9,292.7 L279.7,286.9 L284.6,284.3 L276.5,280.4 L274.9,275.5 L279.7,270.6 L289.5,262.5 L297.6,257.7 L304.1,255.1 L307.3,247.9 L307.3,239.8 L302.5,238.2 L296.0,239.8 L292.7,233.3 L283.0,230.1 L263.5,221.9 L253.8,213.8 L244.0,202.5 L235.9,197.6"/>
<path stroke-width="6.99" d="M313.8,221.9 L320.3,226.8 L317.1,234.9 L312.2,239.8 L310.6,247.9 L315.5,256.0 L310.6,264.2 L305.7,273.9 L302.5,283.6 L299.2,290.1"/>
<path stroke-width="7.59" d="M292.7,184.6 L296.0,196.0 L294.4,202.5"/>
<path stroke-width="7.59" d="M299.2,205.7 L305.7,210.6 L312.2,207.3 L309.0,215.5 L305.7,218.7"/>
<path stroke-width="7.59" d="M310.6,183.0 L315.5,186.2"/>
<path stroke-width="4.60" d="M235.9,197.6 L229.4,212.2 L227.8,228.4 L232.7,238.2 L232.7,251.2 L230.4,267.4 L227.8,285.3 L239.2,290.1 L226.2,293.4 L224.5,299.9 L231.0,308.0 L224.5,319.4 L221.9,312.9 L214.8,326.5 L231.0,329.7 L240.8,338.8 L244.0,345.3 L250.5,346.0"/>
<path stroke-width="4.60" d="M214.8,326.5 L218.7,334.0 L231.0,337.2 L240.8,340.5"/>
<path stroke-width="4.60" d="M218.7,334.0 L209.9,364.8 L201.8,381.0 L192.1,397.3 L184.0,413.5 L175.8,433.0 L167.7,446.0 L158.0,471.9 L148.2,483.3 L143.4,489.8 L133.6,501.2 L122.3,515.8 L123.2,530.4 L117.4,543.4 L114.8,559.6 L117.4,569.4 L112.5,580.7 L114.8,588.8 L112.5,600.2 L105.1,611.6 L99.5,627.8 L88.2,640.8 L78.4,655.1"/>
<path stroke-width="6.39" d="M1955.7,192.7 L1968.7,180.4"/>
<path stroke-width="6.39" d="M1984.9,179.7 L2001.2,189.5 L2017.4,202.5"/>
<path stroke-width="4.60" d="M2465.3,179.1 L2455.6,189.5 L2445.8,205.7 L2439.4,228.4 L2434.5,247.9 L2428.0,257.0 L2428.0,267.4 L2423.1,290.1 L2413.4,312.9 L2406.9,332.3 L2395.5,346.9"/>
<path stroke-width="4.60" d="M2507.5,179.1 L2494.5,192.7 L2478.3,209.0 L2458.8,231.7 L2445.8,254.4 L2437.7,277.1 L2429.6,299.9 L2419.9,325.8 L2406.9,342.1 L2395.5,351.8"/>
<path stroke-width="5.80" d="M2371.2,256.0 L2384.2,258.3 L2400.4,255.1 L2428.0,257.0"/>
<path stroke-width="5.80" d="M2395.5,348.6 L2371.2,371.3 L2358.2,382.7 L2345.2,400.5 L2333.8,411.9 L2329.0,426.5 L2324.1,446.0 L2325.7,462.2 L2311.1,467.1 L2299.7,481.7 L2283.5,501.2"/>
<path stroke-width="5.80" d="M2322.5,446.0 L2309.5,452.5 L2306.2,462.2 L2314.4,463.8"/>
<path stroke-width="5.20" d="M2286.8,465.5 L2299.7,466.1 L2309.5,463.8"/>
<path stroke-width="4.60" d="M2616.3,179.1 L2611.4,189.5 L2601.7,200.8 L2585.5,204.1 L2572.5,202.5 L2566.0,210.6 L2556.2,215.5 L2544.9,225.2 L2559.5,218.7 L2585.5,220.3 L2595.2,228.4 L2603.3,218.7 L2614.7,210.6 L2629.3,210.6 L2630.9,192.7 L2632.5,202.5 L2627.7,221.9 L2629.3,234.9 L2624.4,247.9 L2621.2,256.0 L2634.2,251.2 L2639.0,260.9 L2650.4,267.4 L2660.1,283.6 L2669.9,291.8 L2686.1,290.1 L2699.1,286.9 L2694.2,299.9 L2705.6,298.2 L2721.8,299.9 L2738.1,293.4 L2754.3,295.0 L2767.3,290.1 L2773.8,280.4 L2781.9,270.6 L2790.0,277.1 L2803.0,273.9 L2819.2,270.6"/>
<path stroke-width="4.60" d="M2819.2,296.6 L2803.0,312.9 L2786.8,329.1 L2770.5,345.3 L2754.3,358.3 L2742.9,364.8 L2749.4,374.5 L2734.8,377.8 L2725.1,384.3 L2721.8,397.3 L2718.6,413.5 L2710.5,436.2 L2699.1,446.0 L2695.8,459.0 L2684.5,463.8 L2673.1,452.5 L2663.4,457.3 L2653.6,442.7 L2648.8,426.5 L2650.4,410.3 L2656.9,397.3 L2665.0,390.8 L2676.4,371.3 L2689.4,351.8 L2699.1,340.5 L2715.3,330.7 L2738.1,321.0 L2715.3,338.8 L2715.3,355.1 L2705.6,348.6 L2699.1,340.5 L2686.1,338.8 L2676.4,346.9 L2676.4,325.8 L2686.1,312.9 L2678.0,312.9 L2671.5,309.6 L2676.4,325.8 L2666.6,338.8 L2656.9,351.8 L2640.6,368.1 L2630.9,371.3 L2627.7,364.8 L2624.4,377.8 L2614.7,387.5 L2601.7,394.0 L2591.9,392.4"/>
<path stroke-width="4.60" d="M2591.9,392.4 L2598.4,410.3 L2601.7,416.8 L2591.9,426.5 L2582.2,436.2 L2572.5,439.5 L2567.6,452.5 L2559.5,447.6 L2553.0,455.7 L2559.5,459.0 L2549.7,470.3 L2540.0,462.2 L2535.1,452.5 L2533.5,481.7 L2523.8,491.4 L2510.8,497.9 L2507.5,504.4 L2494.5,514.2 L2491.3,525.5 L2494.5,527.1 L2488.1,543.4 L2484.8,559.6 L2481.6,575.8 L2483.2,585.6 L2496.2,588.8 L2489.7,598.6 L2483.2,611.6 L2494.5,614.8 L2507.5,627.8 L2517.3,637.5 L2530.3,637.5 L2543.2,629.4 L2540.0,619.7 L2527.0,613.2"/>
<path stroke-width="4.60" d="M2527.0,613.2 L2538.4,618.1 L2543.2,629.4 L2533.5,637.5 L2520.5,640.8 L2507.5,647.3 L2501.0,655.1"/>
<path stroke-width="5.20" d="M2611.4,408.6 L2616.3,413.5 L2613.1,420.0 L2610.8,413.5"/>
<path stroke-width="4.60" d="M2665.0,257.7 L2671.5,236.6 L2678.0,251.2 L2692.6,259.3 L2708.8,257.0 L2731.6,249.5 L2764.0,238.2 L2754.3,254.4 L2747.8,267.4 L2754.3,273.9 L2741.3,278.8 L2721.8,273.9 L2702.3,275.5 L2692.6,267.4 L2686.1,272.3 L2676.4,264.2 L2665.0,257.7"/>
<path stroke-width="4.60" d="M2819.2,186.2 L2809.5,183.0 L2799.7,196.0 L2798.1,218.7 L2793.2,247.9 L2799.7,260.9 L2812.7,267.4 L2819.2,267.4"/>
<path stroke-width="6.39" d="M2741.3,183.0 L2742.9,194.4 L2751.0,192.7"/>
<path stroke-width="6.39" d="M2819.2,238.2 L2812.7,247.9 L2817.6,256.0"/>
<path stroke-width="4.60" d="M78.4,655.2 L75.8,664.9 L81.7,679.5 L87.5,697.4 L86.6,713.6 L80.1,726.6 L78.4,742.9 L74.5,754.2 L81.7,772.1 L86.6,785.1 L92.1,791.6 L93.1,801.3 L96.3,811.0 L88.2,817.5 L94.7,814.3 L101.2,824.0 L107.7,833.8 L106.0,841.9 L101.2,853.2 L101.2,867.9 L99.5,872.7 L104.4,887.3 L117.4,895.5 L120.0,905.2 L115.8,912.3 L108.3,917.5 L105.1,931.2 L112.5,947.4 L117.4,963.6 L120.6,976.6 L128.8,989.6 L136.2,1004.2 L132.0,1012.3 L140.8,1022.1 L135.3,1036.7 L135.3,1044.8 L130.4,1054.5 L136.9,1064.3 L156.4,1069.2 L169.4,1077.3 L179.1,1079.9 L185.6,1085.1"/>
<path stroke-width="4.60" d="M107.7,833.8 L110.9,822.4 L117.4,818.2 L123.9,822.4 L130.4,827.3 L136.9,825.0 L145.0,832.1 L158.0,837.7 L145.0,834.4 L133.6,830.5 L123.9,828.9 L115.8,830.5 L114.8,841.9 L119.0,856.5 L120.0,862.3 L114.2,858.1 L109.9,846.8 L109.3,838.6"/>
<path stroke-width="4.60" d="M2489.7,600.0 L2483.2,613.0 L2494.5,613.0 L2504.3,619.5 L2509.2,627.6 L2515.6,634.1 L2527.0,635.7 L2536.8,632.5 L2543.2,629.2 L2541.6,619.5 L2533.5,614.6 L2523.8,614.6"/>
<path stroke-width="4.60" d="M2523.8,614.6 L2533.5,616.2 L2541.6,622.7 L2543.2,632.5 L2533.5,639.0 L2520.5,645.5 L2510.8,642.2 L2515.6,650.3 L2501.0,658.4 L2491.3,664.9 L2484.8,666.6 L2479.9,674.7 L2465.3,681.2 L2452.3,687.0 L2437.7,692.5 L2419.9,697.4 L2410.1,705.5 L2397.1,715.3 L2389.0,725.0 L2382.5,736.4 L2379.3,746.1 L2374.4,752.6 L2372.8,759.1 L2377.7,762.3 L2387.4,760.7 L2390.6,768.8 L2391.3,785.1 L2393.2,798.1 L2390.6,814.3 L2384.2,820.8 L2382.5,830.5 L2376.0,838.6 L2372.8,853.2 L2367.9,861.4 L2365.3,848.4 L2354.9,846.1 L2345.2,843.5 L2335.5,838.6 L2329.0,830.5 L2327.3,820.8 L2332.2,812.7 L2341.9,807.8 L2346.8,798.1"/>
<path stroke-width="6.99" d="M2484.8,648.7 L2483.2,661.7 L2489.7,658.4"/>
<path stroke-width="5.20" d="M2374.4,713.6 L2380.9,720.1 L2382.5,736.4 L2377.7,752.6"/>
<path stroke-width="5.80" d="M2389.0,791.6 L2392.3,801.3 L2389.0,814.3"/>
<path stroke-width="4.60" d="M2329.0,830.5 L2338.7,846.8 L2346.8,859.7 L2358.2,871.1 L2363.1,876.0 L2363.1,885.7 L2369.5,892.2 L2367.9,905.2 L2364.7,918.2 L2359.8,927.9 L2356.6,937.7 L2358.2,950.6 L2350.1,957.1 L2348.4,970.1 L2346.8,979.2 L2341.9,970.1 L2343.6,953.9 L2346.8,940.9 L2348.4,924.7 L2343.6,927.9 L2338.7,919.8 L2333.8,908.4 L2325.7,913.3 L2316.0,910.1 L2311.1,901.9 L2312.7,892.2 L2322.5,893.8 L2311.1,889.0 L2304.6,879.2 L2303.0,859.7 L2307.9,846.8 L2309.5,837.0 L2316.0,840.3"/>
<path stroke-width="5.80" d="M2367.9,892.2 L2369.5,905.2 L2366.3,918.2 L2363.1,929.5"/>
<path stroke-width="4.60" d="M2307.9,838.6 L2299.7,850.0 L2294.9,859.7 L2286.8,861.4 L2294.9,869.5 L2293.2,882.5 L2296.5,895.5 L2299.7,906.8 L2307.9,913.3 L2290.0,901.9 L2296.5,913.3 L2303.0,919.8 L2314.4,927.9 L2296.5,921.4 L2280.3,916.6 L2267.3,919.8 L2264.0,908.4 L2270.5,889.0 L2275.4,885.7"/>
<path stroke-width="6.39" d="M2264.0,905.2 L2265.6,919.8 L2273.8,921.4"/>
<path stroke-width="4.60" d="M2277.0,932.8 L2293.2,940.9 L2309.5,937.7 L2319.2,940.9 L2319.2,952.3 L2299.7,944.2 L2290.0,940.9 L2277.0,932.8"/>
<path stroke-width="4.60" d="M2312.7,957.1 L2325.7,962.0 L2327.3,970.1 L2319.2,976.6 L2303.0,968.5"/>
<path stroke-width="4.60" d="M2319.2,976.6 L2316.0,981.5 L2332.2,988.0 L2325.7,994.5 L2316.0,989.6 L2299.7,984.7 L2281.9,984.1"/>
<path stroke-width="6.39" d="M2281.9,984.1 L2296.5,983.1 L2309.5,986.4"/>
<path stroke-width="4.60" d="M2316.0,989.6 L2322.5,999.4 L2333.8,994.5 L2348.4,994.5 L2356.6,1009.1 L2364.7,1023.7 L2374.4,1035.1 L2384.2,1048.1 L2392.3,1061.0 L2396.5,1074.0 L2397.1,1085.1"/>
<path stroke-width="5.20" d="M2353.3,1009.1 L2358.2,1022.1 L2367.9,1035.1 L2377.7,1049.7"/>
<path stroke-width="4.60" d="M2322.5,1044.8 L2325.7,1059.4 L2338.7,1057.8 L2351.7,1052.9 L2364.7,1049.7 L2367.9,1061.0 L2361.4,1067.5 L2377.7,1054.5 L2374.4,1074.0 L2366.3,1085.1"/>
<path stroke-width="4.00" d="M2338.7,1041.6 L2348.4,1035.1 L2361.4,1036.7 L2367.9,1041.6 L2351.7,1044.8 L2341.9,1048.1"/>
<path stroke-width="6.39" d="M2335.5,1084.4 L2343.6,1085.1"/>
<path stroke-width="4.60" d="M2379.3,747.7 L2389.0,733.1 L2400.4,723.4 L2416.6,715.3 L2439.4,708.8 L2450.7,697.4 L2442.6,713.6 L2455.6,705.5 L2470.2,697.4 L2458.8,707.1 L2442.6,720.1 L2426.4,729.9 L2410.1,739.6 L2393.9,747.7 L2384.2,752.6 L2379.3,747.7"/>
<path stroke-width="4.60" d="M2510.8,663.3 L2518.9,658.4 L2523.8,660.1 L2517.3,664.9 L2510.8,666.6"/>
<path stroke-width="4.60" d="M2538.4,660.1 L2546.5,653.6 L2550.4,659.1 L2543.2,661.0"/>
<path stroke-width="4.60" d="M185.6,1085.2 L192.1,1093.3 L191.4,1101.4 L200.2,1109.5 L209.9,1116.0 L221.3,1117.7 L226.2,1120.9 L228.4,1130.6 L225.2,1137.1 L231.7,1142.0 L235.9,1138.8 L242.4,1143.6 L247.3,1153.4 L255.4,1161.5 L261.9,1171.2 L266.8,1181.0 L270.0,1192.3 L270.0,1202.1 L266.1,1210.2 L265.1,1218.3 L270.6,1219.9 L270.0,1229.7"/>
<path stroke-width="4.60" d="M270.0,1229.7 L269.4,1241.0 L275.8,1250.8 L274.9,1263.8 L284.6,1275.1 L283.6,1281.6 L276.5,1281.6 L279.7,1286.5 L278.1,1294.6 L283.0,1306.0 L287.9,1317.3 L289.5,1322.2 L286.9,1333.6 L296.0,1346.6 L296.6,1351.4 L294.4,1361.2 L292.7,1370.9 L300.8,1379.0 L301.8,1383.9 L299.2,1396.9 L296.0,1401.8 L299.2,1405.0 L299.9,1414.7 L312.2,1431.0 L321.9,1442.3 L331.7,1448.8 L339.8,1465.1 L344.7,1471.6 L351.2,1484.5 L357.7,1497.5 L364.2,1507.3 L366.8,1515.1"/>
<path stroke-width="4.60" d="M420.0,1515.1 L418.7,1507.3 L414.5,1505.6 L411.2,1497.5 L404.1,1495.9 L404.7,1484.5 L399.9,1471.6 L395.0,1460.2 L385.3,1447.2 L380.4,1438.4 L370.6,1429.4 L369.0,1424.5 L362.5,1413.1 L360.9,1403.4 L364.2,1393.6 L367.4,1383.9 L366.8,1374.2 L366.8,1354.7 L362.5,1341.7 L366.8,1330.3 L370.6,1319.0 L377.1,1309.2 L372.3,1296.2"/>
<path stroke-width="4.60" d="M372.3,1296.2 L383.6,1306.0 L390.1,1310.8 L398.2,1320.6 L406.4,1328.7 L414.5,1330.3 L418.7,1324.8 L427.5,1331.9 L433.0,1338.4 L431.7,1345.6 L440.5,1351.4 L451.8,1356.3 L459.9,1361.8 L459.0,1369.3 L454.4,1370.3 L455.1,1375.8 L451.2,1387.1 L452.5,1396.9 L456.7,1409.9 L459.9,1422.9 L460.9,1432.6 L459.9,1442.3 L464.2,1452.1 L466.4,1460.2 L471.9,1473.2 L469.7,1482.9 L477.8,1489.4 L478.4,1504.0 L482.7,1510.5 L484.9,1515.1"/>
<path stroke-width="6.99" d="M372.3,1296.9 L377.1,1304.4 L381.0,1309.2"/>
<path stroke-width="4.6" d="M406.4,1457.9 L409.6,1453.7 L415.5,1457.9 L419.4,1466.7 L417.7,1471.6 L425.8,1476.4 L425.2,1492.7 L419.4,1487.8 L411.2,1474.8 L407.0,1466.7Z"/>
<path stroke-width="4.6" d="M130.4,1089.1 L135.3,1087.8 L140.8,1094.9 L149.9,1096.6 L152.5,1099.8 L146.6,1104.0 L141.8,1102.1 L138.5,1094.3Z"/>
<path stroke-width="4.6" d="M156.4,1096.6 L161.2,1094.9 L167.7,1099.8 L175.2,1102.1 L174.2,1105.3 L164.5,1105.3 L159.0,1102.1Z"/>
<path stroke-width="4.6" d="M158.0,1148.5 L162.9,1146.9 L166.1,1151.8 L162.9,1155.0 L159.0,1152.7Z"/>
<path stroke-width="4.6" d="M211.6,1151.8 L215.5,1150.8 L222.9,1157.3 L224.5,1164.7 L216.4,1163.1 L214.8,1157.3Z"/>
<path stroke-width="4.6" d="M203.4,1178.7 L206.7,1177.7 L209.9,1187.5 L214.2,1192.3 L209.9,1194.0 L205.7,1189.1Z"/>
<path stroke-width="4.6" d="M143.4,1413.1 L148.2,1410.5 L152.5,1414.7 L151.5,1426.8 L146.6,1431.0 L144.4,1422.9Z"/>
<path stroke-width="4.6" d="M297.6,1515.1 L298.6,1508.9 L301.8,1506.6 L304.4,1509.9 L304.4,1515.1Z"/>
<path stroke-width="6.99" d="M2147.3,1413.1 L2149.9,1426.1"/>
<path stroke-width="4.60" d="M1721.9,1515.1 L1731.7,1505.6 L1744.7,1502.4 L1754.4,1498.5 L1764.2,1500.8 L1780.4,1498.5 L1795.0,1497.5 L1798.2,1479.7 L1801.5,1477.4 L1806.4,1482.9 L1808.0,1492.7 L1814.5,1499.2 L1825.8,1497.5 L1830.7,1491.0 L1832.3,1499.2 L1842.1,1494.3 L1848.6,1482.9 L1856.7,1479.7 L1855.1,1489.4 L1871.3,1487.8 L1884.3,1480.6 L1897.3,1479.7 L1903.8,1482.9 L1887.5,1487.1 L1907.0,1491.0 L1924.9,1496.6 L1931.4,1488.4 L1933.0,1497.5 L1942.7,1505.6 L1952.5,1513.8"/>
<path stroke-width="4.60" d="M1978.4,1515.1 L1991.4,1505.6 L2001.2,1502.4 L2004.4,1492.7 L2019.0,1488.4 L2040.1,1497.5 L2053.1,1510.5 L2058.0,1515.1"/>
<path stroke-width="5.80" d="M1764.2,1507.9 L1773.9,1510.5"/>
<path stroke-width="5.80" d="M1786.9,1507.3 L1798.2,1504.7"/>
<path stroke-width="5.20" d="M1803.1,1505.6 L1822.6,1502.4"/>
<path stroke-width="5.80" d="M2392.3,1090.1 L2386.8,1092.3"/>
<path stroke-width="5.80" d="M2382.5,1095.6 L2374.4,1101.4"/>
<path stroke-width="5.20" d="M2397.1,1085.2 L2392.3,1090.1"/>
<path stroke-width="4.60" d="M2322.5,1043.0 L2325.7,1059.9 L2343.6,1056.0 L2359.8,1051.1 L2361.4,1062.5 L2364.7,1067.3 L2366.3,1056.0 L2371.2,1051.1 L2377.7,1059.2 L2376.0,1069.0 L2369.5,1078.7 L2363.1,1089.1 L2351.7,1090.1 L2343.6,1083.6 L2338.7,1083.6 L2338.1,1089.1 L2329.0,1091.7 L2316.0,1089.4 L2325.7,1093.3 L2338.7,1094.9 L2346.8,1098.2 L2345.2,1109.5 L2338.7,1117.7 L2329.0,1116.0 L2320.8,1111.8 L2327.3,1118.3 L2335.5,1121.6 L2350.1,1116.0 L2359.8,1117.7 L2357.5,1125.8 L2367.3,1115.1 L2361.4,1127.4 L2356.6,1137.1 L2346.8,1133.9 L2354.9,1127.4 L2343.6,1133.2 L2325.7,1138.8 L2319.2,1146.9 L2312.7,1151.8 L2309.5,1142.0 L2314.4,1153.4 L2303.0,1166.4 L2298.1,1176.1 L2294.9,1185.8 L2294.9,1195.6 L2290.0,1181.0 L2291.6,1197.2 L2270.5,1201.4 L2262.4,1205.3 L2252.7,1215.1 L2246.2,1228.1 L2241.3,1241.0 L2234.8,1245.9 L2239.7,1254.0 L2234.8,1262.1 L2223.4,1270.3 L2221.8,1276.8 L2212.1,1286.5 L2207.2,1284.9 L2210.5,1289.7 L2205.6,1297.9 L2195.8,1302.1 L2189.4,1308.6 L2176.4,1308.6 L2182.9,1315.7 L2182.9,1322.2 L2176.4,1323.8 L2168.2,1317.3 L2169.9,1325.5 L2174.7,1330.3 L2168.2,1336.8 L2165.0,1346.6 L2156.9,1353.1 L2161.8,1357.9 L2155.3,1366.0 L2156.9,1375.8 L2152.0,1380.6 L2153.6,1390.4 L2148.8,1392.0 L2152.0,1398.5 L2147.1,1400.1 L2146.5,1413.1 L2148.8,1427.7 L2153.6,1440.7 L2160.1,1455.3 L2168.2,1468.3 L2173.1,1481.3 L2181.2,1494.3 L2189.4,1507.3 L2194.2,1515.1"/>
<path stroke-width="6.39" d="M2361.4,1052.7 L2359.8,1065.7 L2364.7,1067.3"/>
<path stroke-width="6.39" d="M2234.8,1242.7 L2238.7,1252.4"/>
<path stroke-width="4.60" d="M366.8,1515.2 L368.1,1520.1 L362.5,1533.1 L354.4,1543.8 L347.9,1547.7 L336.6,1551.6 L328.4,1551.6 L318.7,1547.7 L305.7,1542.8 L304.1,1547.7 L310.6,1555.8 L318.7,1567.1 L326.8,1575.3 L326.8,1585.0 L331.7,1593.1 L343.1,1598.0 L349.5,1607.7 L357.7,1611.0 L362.5,1624.0 L367.4,1630.5 L377.1,1628.2 L386.9,1629.5 L395.0,1622.3 L394.0,1633.7 L396.6,1645.1 L406.4,1658.1 L414.5,1667.8 L429.1,1677.5 L434.0,1690.5 L437.2,1703.5 L437.2,1716.5 L435.6,1719.7 L437.2,1727.9 L430.7,1744.1 L427.5,1755.5 L426.5,1765.2 L440.5,1783.1 L438.8,1787.9 L446.9,1790.5 L451.8,1799.3 L461.6,1809.0 L477.8,1825.3 L484.3,1835.0 L492.4,1844.7 L497.3,1853.5 L511.9,1865.2 L516.8,1878.8 L520.0,1885.3 L521.6,1906.4 L524.9,1914.5 L531.4,1916.2 L541.1,1912.9 L549.2,1906.4 L559.0,1901.6 L563.8,1893.4 L567.1,1883.7 L562.9,1874.9 L553.1,1869.7 L552.5,1857.7 L547.6,1848.0 L542.7,1838.2 L537.9,1830.1 L529.7,1822.0 L525.8,1818.8 L522.6,1822.0 L522.6,1830.1 L518.4,1833.4 L515.1,1828.5 L508.6,1825.3 L503.8,1815.5 L502.1,1797.7 L508.6,1786.3 L507.0,1774.9 L502.1,1765.2 L498.9,1755.5 L495.6,1737.6 L489.2,1732.7 L484.9,1718.1 L484.3,1708.4 L487.5,1695.4 L484.9,1680.8 L483.6,1671.0 L481.0,1664.5 L481.0,1656.4 L471.3,1643.4 L464.8,1645.1 L463.2,1636.9 L459.9,1630.5 L462.2,1627.2 L451.8,1617.5 L449.2,1606.1 L449.2,1596.4 L438.8,1585.0 L430.7,1572.0 L432.3,1563.9 L430.7,1554.2 L432.3,1546.0 L430.7,1536.3 L422.6,1531.4 L420.0,1524.9 L420.0,1515.2"/>
<path stroke-width="6.99" d="M463.2,1646.7 L465.5,1656.4 L470.6,1662.9"/>
<path stroke-width="4.60" d="M484.9,1515.2 L489.2,1523.3 L490.8,1529.8 L497.3,1544.4 L507.0,1552.5 L513.5,1570.4 L521.6,1582.7 L531.4,1589.2 L539.5,1588.2 L554.1,1594.7 L547.6,1602.9 L546.0,1619.1 L550.8,1632.1 L559.0,1641.8 L576.8,1649.9 L576.8,1661.3 L580.1,1671.0 L584.9,1675.9 L597.9,1677.5 L607.7,1691.2 L609.3,1701.9 L614.2,1710.0 L607.7,1707.4 L594.7,1720.4 L593.1,1740.8 L597.9,1749.0 L607.7,1750.6 L622.3,1745.7 L610.9,1756.1 L609.3,1760.3 L625.5,1758.7 L626.5,1766.8 L641.8,1779.8 L648.2,1786.3 L664.5,1796.0 L662.9,1799.3 L649.9,1792.8 L658.0,1807.4 L662.9,1814.5 L662.2,1823.6 L667.7,1830.1 L679.1,1836.6 L689.5,1836.6 L688.8,1846.4 L674.2,1836.6 L682.3,1844.7 L708.3,1870.7 L716.4,1881.4 L726.2,1899.9 L735.9,1914.5 L742.4,1929.2 L752.1,1939.9 L754.4,1942.5"/>
<path stroke-width="4.6" d="M291.1,1521.7 L298.6,1515.2 L299.9,1507.1 L304.1,1508.7 L304.4,1520.1 L299.9,1528.8Z"/>
<path stroke-width="4.6" d="M344.0,1555.8 L347.9,1549.3 L354.4,1549.3 L351.8,1557.4 L356.0,1565.5 L349.5,1564.5Z"/>
<path stroke-width="4.6" d="M456.7,1510.3 L464.8,1490.8 L476.2,1489.9 L477.1,1502.2 L469.7,1520.1 L463.2,1518.4Z"/>
<path stroke-width="4.6" d="M489.2,1714.9 L494.0,1701.9 L500.5,1700.9 L499.9,1706.8 L494.0,1710.0Z"/>
<path stroke-width="4.6" d="M508.6,1768.4 L513.5,1766.8 L518.4,1773.3 L518.4,1782.1 L512.9,1779.8Z"/>
<path stroke-width="4.6" d="M546.6,1823.6 L549.9,1823.0 L552.5,1836.6 L548.6,1837.3Z"/>
<path stroke-width="4.6" d="M414.5,1768.4 L422.6,1755.5 L429.7,1737.6 L424.2,1758.7 L422.6,1771.7 L424.2,1786.3 L420.0,1779.8 L418.7,1770.1Z"/>
<path stroke-width="4.6" d="M425.8,1786.3 L437.2,1787.9 L443.7,1797.7 L442.1,1803.5 L434.0,1796.0Z"/>
<path stroke-width="4.60" d="M1299.5,1789.5 L1296.3,1771.7 L1291.4,1752.2 L1288.8,1732.7 L1288.2,1716.5 L1291.4,1703.5 L1296.3,1690.5 L1304.4,1679.2 L1317.4,1662.9 L1330.4,1651.6 L1345.0,1643.4 L1353.1,1635.3 L1369.4,1627.2 L1385.6,1619.1 L1401.8,1609.4 L1414.8,1599.6 L1414.8,1593.1 L1434.3,1581.8 L1447.3,1572.0 L1460.3,1563.9 L1473.2,1559.0 L1483.0,1557.4 L1492.7,1554.2 L1520.0,1550.9"/>
<path stroke-width="4.60" d="M1297.9,1787.9 L1291.4,1778.2 L1284.9,1763.6 L1281.7,1745.7 L1278.4,1729.5 L1284.9,1713.2 L1286.6,1710.0 L1271.9,1710.0 L1267.1,1698.6 L1278.4,1706.8 L1286.6,1710.0"/>
<path stroke-width="4.60" d="M1294.7,1687.3 L1286.6,1674.3 L1297.9,1672.7 L1307.7,1666.2 L1302.8,1656.4 L1314.2,1653.2 L1315.8,1659.7 L1307.7,1671.0 L1297.9,1684.0"/>
<path stroke-width="4.60" d="M1320.6,1651.6 L1323.9,1638.6 L1333.6,1643.4 L1343.4,1636.9 L1345.0,1641.8 L1336.9,1632.1 L1332.0,1620.7 L1340.1,1625.6 L1348.2,1624.0 L1361.2,1626.2 L1367.7,1627.2 L1354.7,1635.3"/>
<path stroke-width="6.39" d="M1414.8,1593.1 L1427.8,1588.2 L1437.5,1580.1"/>
<path stroke-width="4.60" d="M1431.0,1580.1 L1424.5,1567.1 L1421.3,1557.4 L1429.4,1555.8 L1437.5,1554.2 L1439.2,1565.5 L1448.9,1567.1 L1434.3,1576.9"/>
<path stroke-width="5.20" d="M1479.7,1550.9 L1487.9,1539.5 L1489.5,1546.0 L1483.0,1554.2"/>
<path stroke-width="4.60" d="M1301.2,1791.2 L1299.5,1804.2 L1294.7,1817.1 L1286.6,1833.4 L1280.1,1849.6 L1275.2,1865.8 L1270.3,1885.3 L1265.5,1908.1 L1262.9,1927.5 L1261.6,1941.2"/>
<path stroke-width="4.60" d="M1520.0,1550.9 L1530.4,1553.5 L1540.1,1558.1 L1549.9,1562.3 L1562.9,1563.2 L1575.8,1563.9 L1585.6,1560.6 L1580.7,1554.2 L1585.6,1548.3 L1593.7,1546.0 L1596.9,1550.3 L1605.1,1550.3 L1609.9,1557.4 L1616.4,1563.2 L1627.8,1563.9 L1629.4,1570.4 L1635.9,1575.3 L1627.8,1578.5 L1637.5,1581.8 L1647.3,1584.4 L1660.3,1586.6 L1666.8,1576.9 L1673.2,1574.3 L1679.7,1575.3 L1684.6,1581.8 L1687.9,1586.6 L1694.4,1582.7 L1696.0,1570.4 L1696.0,1563.9 L1689.5,1559.0 L1699.2,1561.3 L1707.3,1564.5 L1712.2,1571.0 L1720.3,1573.0 L1730.1,1578.5 L1734.9,1585.0 L1736.6,1589.9 L1741.4,1585.0 L1747.9,1587.3 L1753.8,1578.5 L1746.3,1572.0 L1739.8,1568.8 L1728.4,1564.5 L1718.7,1557.4 L1713.8,1550.9 L1718.7,1545.1 L1728.4,1540.5 L1731.7,1536.3 L1728.4,1528.2 L1720.3,1526.6 L1717.1,1533.1 L1710.6,1534.0 L1705.7,1528.2 L1712.2,1521.7 L1721.9,1515.2"/>
<path stroke-width="4.60" d="M1673.2,1521.7 L1679.7,1508.7 L1689.5,1506.1 L1699.2,1511.9 L1713.8,1516.8 L1705.7,1523.3 L1696.0,1527.5 L1686.2,1528.8 L1678.1,1525.6 L1673.2,1521.7"/>
<path stroke-width="4.60" d="M1585.6,1559.0 L1593.7,1556.8 L1601.8,1561.3 L1597.9,1568.1 L1588.8,1563.9 L1585.6,1559.0"/>
<path stroke-width="5.80" d="M1756.0,1520.1 L1760.3,1529.8 L1759.3,1539.5 L1754.4,1547.0"/>
<path stroke-width="5.80" d="M1731.7,1520.1 L1739.8,1516.8 L1739.8,1523.3"/>
<path stroke-width="4.60" d="M1952.5,1513.9 L1947.6,1518.4 L1949.9,1524.3 L1960.6,1521.7 L1973.6,1517.8 L1978.4,1515.2"/>
<path stroke-width="7.59" d="M1947.6,1515.2 L1949.9,1521.7"/>
<path stroke-width="5.80" d="M1965.5,1526.6 L1975.2,1524.9 L1984.9,1517.8"/>
<path stroke-width="4.60" d="M2058.0,1515.2 L2069.4,1526.6 L2085.6,1536.3 L2098.6,1545.1 L2106.7,1554.2 L2109.9,1576.9 L2107.7,1596.4 L2105.7,1619.1 L2109.9,1627.2 L2118.1,1625.6 L2119.7,1619.1 L2113.2,1611.0 L2122.9,1611.9 L2131.0,1615.2 L2127.8,1625.6 L2122.9,1638.6 L2116.4,1641.2 L2126.2,1651.6 L2134.3,1664.5 L2144.0,1674.3 L2152.1,1676.9 L2151.2,1669.4 L2160.3,1667.1 L2161.9,1677.5 L2163.5,1690.5 L2157.0,1695.4 L2161.9,1701.9 L2166.8,1698.6 L2171.6,1684.0 L2176.5,1682.4 L2170.0,1695.4 L2176.5,1698.6 L2181.4,1711.6 L2186.2,1719.7 L2194.4,1726.9 L2204.1,1730.1 L2212.2,1731.1 L2215.5,1737.6 L2220.0,1742.5"/>
<path stroke-width="7.59" d="M2155.4,1695.4 L2161.9,1700.9"/>
<path stroke-width="6.99" d="M2197.6,1817.8 L2205.1,1814.5"/>
<path stroke-width="6.99" d="M2209.0,1811.3 L2214.8,1804.8"/>
<path stroke-width="4.60" d="M2219.9,1742.5 L2225.1,1749.0 L2231.6,1757.1 L2238.1,1760.3 L2242.9,1763.6 L2241.3,1766.8 L2231.6,1761.9 L2228.3,1765.2 L2231.6,1772.3 L2238.1,1773.3 L2247.8,1768.4 L2255.9,1766.8 L2264.0,1761.9 L2270.5,1757.1 L2274.4,1750.6 L2273.1,1736.0 L2277.0,1723.0 L2281.9,1718.1 L2279.6,1701.9 L2278.6,1674.3 L2275.4,1658.1 L2268.9,1643.4 L2262.4,1635.3 L2254.3,1622.3 L2244.5,1606.1 L2234.8,1589.9 L2226.7,1572.0 L2227.7,1557.4 L2216.9,1547.7 L2202.3,1529.8 L2191.9,1515.2"/>
<path stroke-width="5.20" d="M2206.2,1542.8 L2210.5,1554.2 L2216.9,1563.9 L2223.4,1567.1 L2227.7,1557.4"/>
<path stroke-width="6.39" d="M2216.9,1557.4 L2231.6,1583.4 L2241.3,1599.6 L2254.3,1622.3 L2262.4,1635.3"/>
<path stroke-width="6.39" d="M2262.4,1783.1 L2270.5,1771.7 L2278.6,1752.2"/>
<path stroke-width="6.39" d="M2251.0,1791.8 L2255.9,1788.6"/>
<path stroke-width="6.39" d="M2236.4,1800.9 L2247.8,1795.4"/>
<path stroke-width="6.39" d="M2219.2,1800.9 L2226.7,1807.4"/>
<path stroke-width="6.39" d="M2208.8,1812.3 L2214.7,1806.8"/>
<path stroke-width="6.39" d="M2198.4,1817.8 L2204.0,1815.5"/>
<path stroke-width="6.99" d="M2233.2,1761.9 L2241.3,1763.6"/>
<path stroke-width="4.6" d="M2333.8,1652.2 L2345.2,1654.8 L2353.3,1649.9 L2354.3,1640.2 L2359.8,1643.4 L2374.4,1640.2 L2395.5,1636.0 L2395.5,1641.8 L2377.7,1647.7 L2364.7,1653.2 L2351.7,1661.3 L2343.6,1658.7Z"/>
<path stroke-width="4.6" d="M2390.0,1625.6 L2397.1,1621.7 L2413.4,1620.7 L2424.7,1627.2 L2434.5,1633.7 L2445.8,1636.9 L2449.7,1649.9 L2444.2,1658.1 L2445.8,1667.8 L2446.5,1679.2 L2442.6,1680.8 L2432.9,1674.3 L2438.7,1667.8 L2437.7,1651.6 L2436.1,1640.2 L2428.0,1636.9 L2418.2,1628.2 L2406.9,1624.9Z"/>
<path stroke-width="4.6" d="M2398.8,1736.0 L2410.1,1737.6 L2415.0,1745.7 L2424.7,1753.8 L2432.9,1761.9 L2436.1,1774.3 L2428.0,1781.4 L2421.5,1789.5 L2416.6,1783.1 L2408.5,1781.4 L2398.8,1779.8 L2393.9,1774.3 L2400.4,1772.3 L2399.7,1763.6 L2403.6,1752.2 L2401.0,1742.5Z"/>
<path stroke-width="4.6" d="M2424.7,1792.8 L2441.0,1786.3 L2450.7,1794.4 L2457.2,1809.0 L2456.2,1819.7 L2444.2,1822.0 L2437.7,1806.8 L2431.2,1800.9Z"/>
<path stroke-width="4.6" d="M2476.7,1703.5 L2479.0,1693.1 L2489.7,1699.6 L2504.3,1702.9 L2519.9,1711.6 L2522.1,1726.2 L2523.8,1739.2 L2524.4,1744.1 L2512.4,1735.3 L2519.9,1732.7 L2517.3,1718.1 L2502.7,1708.4 L2489.7,1704.2Z"/>
<path stroke-width="4.6" d="M2437.7,1736.0 L2445.8,1732.1 L2455.6,1733.4 L2449.1,1738.6 L2441.0,1739.9Z"/>
<path stroke-width="4.6" d="M2547.1,1735.3 L2552.3,1732.7 L2566.0,1747.3 L2581.6,1759.4 L2569.2,1766.8 L2572.5,1760.3 L2559.5,1750.6Z"/>
<path stroke-width="4.6" d="M2626.0,1753.8 L2630.3,1749.6 L2634.2,1753.8 L2631.6,1762.6 L2627.0,1761.9Z"/>
<path stroke-width="6.99" d="M2546.5,1804.8 L2556.2,1805.5 L2571.8,1811.3"/>
<path stroke-width="4.6" d="M2588.1,1792.8 L2598.4,1802.5 L2608.2,1815.5 L2611.4,1820.4 L2622.8,1823.6 L2629.3,1835.0 L2617.9,1825.3 L2603.3,1822.0 L2605.6,1816.5 L2595.2,1804.2Z"/>
<path stroke-width="4.6" d="M2660.1,1828.5 L2671.5,1831.8 L2681.2,1833.4 L2687.7,1828.5 L2693.2,1839.9 L2687.7,1854.5 L2681.2,1862.6 L2673.1,1869.7 L2684.5,1852.9 L2688.7,1841.5 L2682.9,1836.6 L2671.5,1837.3 L2663.4,1836.0Z"/>
<path stroke-width="4.6" d="M2734.8,1835.0 L2751.0,1832.7 L2760.8,1836.6 L2749.4,1837.3 L2734.8,1839.2Z"/>
<path stroke-width="4.6" d="M2728.3,1927.5 L2736.4,1919.4 L2749.4,1919.4 L2759.2,1912.9 L2762.4,1905.5 L2765.6,1911.3 L2761.4,1927.5 L2747.8,1934.0 L2729.9,1938.9Z"/>
<path stroke-width="4.6" d="M2755.9,1891.8 L2761.4,1887.9 L2766.6,1890.2 L2760.1,1895.7Z"/>
<path stroke-width="4.6" d="M2793.2,1858.7 L2806.2,1857.7 L2799.7,1864.2 L2793.9,1864.2Z"/>
<path stroke-width="6.99" d="M2810.1,1846.4 L2818.6,1848.0"/>
<path stroke-width="4.60" d="M2116.3,1941.2 L2134.2,1930.1 L2163.4,1922.7 L2179.6,1913.9 L2195.8,1908.1 L2228.3,1907.4 L2247.8,1901.6 L2252.7,1906.4 L2267.3,1901.6 L2285.1,1897.7 L2291.6,1902.2 L2303.0,1904.8 L2317.6,1901.6 L2332.2,1904.2 L2348.4,1911.3 L2359.8,1921.0 L2376.0,1926.9 L2397.1,1921.7 L2413.4,1922.7 L2436.1,1928.2 L2452.3,1934.7 L2465.3,1939.9 L2471.8,1942.1"/>
<path stroke-width="6.39" d="M2346.8,1904.2 L2367.9,1911.3"/>
<path stroke-width="5.80" d="M2332.2,1902.2 L2336.1,1905.5"/>
<path stroke-width="4.6" d="M2406.9,1910.6 L2424.7,1906.4 L2442.6,1912.9 L2458.8,1922.7 L2478.3,1927.5 L2476.7,1936.6 L2462.1,1930.1 L2442.6,1921.0 L2424.7,1911.9 L2410.1,1912.9Z"/>
<path stroke-width="6.39" d="M2481.6,1937.9 L2494.5,1941.2"/>
<path stroke-width="6.39" d="M2195.8,1939.9 L2225.1,1939.2"/>
</g>
</g>
<rect x="30.4" y="178.4" width="2790.0" height="1762.5" fill="none" stroke="#000" stroke-width="3.33"/>
<g shape-rendering="crispEdges">
<rect x="2994.6" y="387.00" width="73.7" height="135.46" fill="#67001f"/>
<rect x="2994.6" y="521.46" width="73.7" height="135.46" fill="#b6202f"/>
<rect x="2994.6" y="655.92" width="73.7" height="135.46" fill="#dd6f59"/>
<rect x="2994.6" y="790.38" width="73.7" height="135.46" fill="#f7b799"/>
<rect x="2994.6" y="924.84" width="73.7" height="135.46" fill="#fae7dc"/>
<rect x="2994.6" y="1059.30" width="73.7" height="135.46" fill="#e2edf3"/>
<rect x="2994.6" y="1193.76" width="73.7" height="135.46" fill="#a7d0e4"/>
<rect x="2994.6" y="1328.22" width="73.7" height="135.46" fill="#559ec9"/>
<rect x="2994.6" y="1462.68" width="73.7" height="135.46" fill="#256baf"/>
<rect x="2994.6" y="1597.14" width="73.7" height="135.46" fill="#053061"/>
</g>
<path d="M2994.6,1732.0 L3031.45,1797.6 L3068.3,1732.0Z" fill="#053061"/>
<path d="M2994.6,387.4 L3031.45,321.79999999999995 L3068.3,387.4Z" fill="#67001f"/>
<path d="M2994.6,1732.0 L3031.45,1797.6 L3068.3,1732.0 L3068.3,387.4 L3031.45,321.79999999999995 L2994.6,387.4Z" fill="none" stroke="#000" stroke-width="3.33" stroke-linejoin="miter"/>
<g stroke="#000" stroke-width="3.33">
<line x1="3068.3" y1="1732.00" x2="3083.3" y2="1732.00"/>
<line x1="3068.3" y1="1597.54" x2="3083.3" y2="1597.54"/>
<line x1="3068.3" y1="1463.08" x2="3083.3" y2="1463.08"/>
<line x1="3068.3" y1="1328.62" x2="3083.3" y2="1328.62"/>
<line x1="3068.3" y1="1194.16" x2="3083.3" y2="1194.16"/>
<line x1="3068.3" y1="1059.70" x2="3083.3" y2="1059.70"/>
<line x1="3068.3" y1="925.24" x2="3083.3" y2="925.24"/>
<line x1="3068.3" y1="790.78" x2="3083.3" y2="790.78"/>
<line x1="3068.3" y1="656.32" x2="3083.3" y2="656.32"/>
<line x1="3068.3" y1="521.86" x2="3083.3" y2="521.86"/>
<line x1="3068.3" y1="387.40" x2="3083.3" y2="387.40"/>
</g>
<g font-family="'DejaVu Sans', 'Liberation Sans', sans-serif" font-size="41.67" fill="#000">
<text x="3098.0" y="1747.80">0.0</text>
<text x="3098.0" y="1613.34">0.1</text>
<text x="3098.0" y="1478.88">0.2</text>
<text x="3098.0" y="1344.42">0.3</text>
<text x="3098.0" y="1209.96">0.4</text>
<text x="3098.0" y="1075.50">0.5</text>
<text x="3098.0" y="941.04">0.6</text>
<text x="3098.0" y="806.58">0.7</text>
<text x="3098.0" y="672.12">0.8</text>
<text x="3098.0" y="537.66">0.9</text>
<text x="3098.0" y="403.20">1.0</text>
<text transform="translate(3211,1062) rotate(-90)" text-anchor="middle">Hit Rate</text>
</g>
<g font-family="'DejaVu Sans', 'Liberation Sans', sans-serif" font-size="66.67" fill="#000" text-anchor="middle">
<text x="1425.4" y="79.6">Sliding Mean Hit Rate (Below Normal): CWRF</text>
<text x="1425.4" y="154.3">Variable: PRAVG, Season: NDJ, Start: 1013</text>
</g>
</svg>
</body></html>
